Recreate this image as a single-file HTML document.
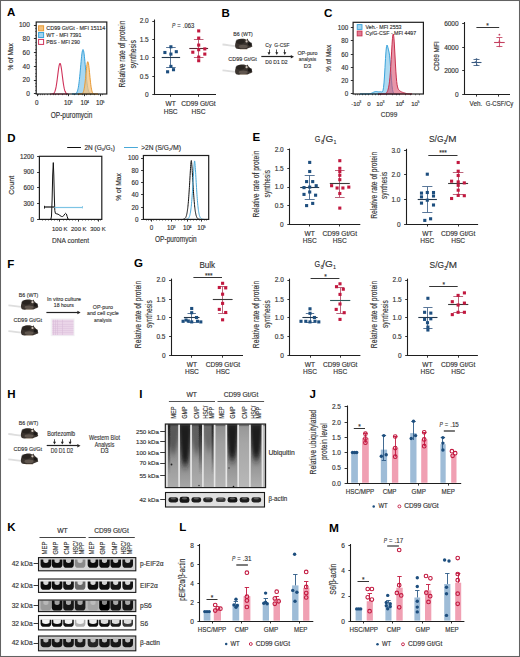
<!DOCTYPE html><html><head><meta charset="utf-8"><style>html,body{margin:0;padding:0;background:#fff;width:520px;height:657px;overflow:hidden}svg{display:block;font-family:"Liberation Sans",sans-serif}</style></head><body><svg width="520" height="657" viewBox="0 0 520 657" font-family="Liberation Sans, sans-serif"><defs><filter id="bl1" x="-20%" y="-5%" width="140%" height="110%"><feGaussianBlur stdDeviation="0.6"/></filter><filter id="bls" x="-50%" y="-40%" width="200%" height="180%"><feGaussianBlur stdDeviation="1.6 4.5"/></filter><linearGradient id="lg0" x1="0" y1="0" x2="0" y2="1"><stop offset="0" stop-color="#6a6a6a"/><stop offset="0.3" stop-color="#848484"/><stop offset="0.65" stop-color="#9c9c9c"/><stop offset="1" stop-color="#acacac"/></linearGradient><clipPath id="lc0"><rect x="167.80" y="424.00" width="10.40" height="63.60"/></clipPath><linearGradient id="lg1" x1="0" y1="0" x2="0" y2="1"><stop offset="0" stop-color="#5a5a5a"/><stop offset="0.5" stop-color="#828282"/><stop offset="1" stop-color="#a6a6a6"/></linearGradient><clipPath id="lc1"><rect x="180.00" y="424.00" width="10.30" height="63.60"/></clipPath><linearGradient id="lg2" x1="0" y1="0" x2="0" y2="1"><stop offset="0" stop-color="#6a6a6a"/><stop offset="0.3" stop-color="#848484"/><stop offset="0.6" stop-color="#9e9e9e"/><stop offset="1" stop-color="#adadad"/></linearGradient><clipPath id="lc2"><rect x="192.00" y="424.00" width="10.00" height="63.60"/></clipPath><linearGradient id="lg3" x1="0" y1="0" x2="0" y2="1"><stop offset="0" stop-color="#787878"/><stop offset="0.35" stop-color="#909090"/><stop offset="0.7" stop-color="#a4a4a4"/><stop offset="1" stop-color="#b2b2b2"/></linearGradient><clipPath id="lc3"><rect x="203.80" y="424.00" width="10.00" height="63.60"/></clipPath><linearGradient id="lg4" x1="0" y1="0" x2="0" y2="1"><stop offset="0" stop-color="#8e8e8e"/><stop offset="0.3" stop-color="#a0a0a0"/><stop offset="1" stop-color="#b4b4b4"/></linearGradient><clipPath id="lc4"><rect x="215.60" y="424.00" width="9.80" height="63.60"/></clipPath><linearGradient id="lg5" x1="0" y1="0" x2="0" y2="1"><stop offset="0" stop-color="#5a5a5a"/><stop offset="0.5" stop-color="#888888"/><stop offset="1" stop-color="#aaaaaa"/></linearGradient><clipPath id="lc5"><rect x="227.20" y="424.00" width="10.10" height="63.60"/></clipPath><linearGradient id="lg6" x1="0" y1="0" x2="0" y2="1"><stop offset="0" stop-color="#969696"/><stop offset="0.3" stop-color="#a6a6a6"/><stop offset="1" stop-color="#b8b8b8"/></linearGradient><clipPath id="lc6"><rect x="239.20" y="424.00" width="9.80" height="63.60"/></clipPath><linearGradient id="lg7" x1="0" y1="0" x2="0" y2="1"><stop offset="0" stop-color="#6a6a6a"/><stop offset="0.5" stop-color="#8a8a8a"/><stop offset="1" stop-color="#b0b0b0"/></linearGradient><clipPath id="lc7"><rect x="250.80" y="424.00" width="10.80" height="63.60"/></clipPath><linearGradient id="edg" x1="0" y1="0" x2="0" y2="1"><stop offset="0" stop-color="#1a1a1a" stop-opacity="0.85"/><stop offset="0.5" stop-color="#2a2a2a" stop-opacity="0.45"/><stop offset="0.8" stop-color="#333" stop-opacity="0"/></linearGradient><filter id="bl2" x="-30%" y="-60%" width="160%" height="220%"><feGaussianBlur stdDeviation="0.7"/></filter><filter id="bl3" x="-30%" y="-60%" width="160%" height="220%"><feGaussianBlur stdDeviation="0.55"/></filter><filter id="bl4" x="-30%" y="-60%" width="160%" height="220%"><feGaussianBlur stdDeviation="0.8"/></filter><filter id="bl5" x="-30%" y="-60%" width="160%" height="220%"><feGaussianBlur stdDeviation="0.5"/></filter></defs><rect x="0" y="0" width="520" height="657" fill="#fff"/><text x="7.00" y="16.00" font-size="11.5" fill="#000" text-anchor="start" font-weight="bold">A</text><path d="M50.00,94.00 L50.00,94.00 L50.23,94.00 L50.45,93.99 L50.67,93.99 L50.90,93.99 L51.12,93.98 L51.35,93.97 L51.58,93.96 L51.80,93.95 L52.02,93.93 L52.25,93.90 L52.48,93.86 L52.70,93.80 L52.92,93.73 L53.15,93.64 L53.38,93.52 L53.60,93.36 L53.83,93.17 L54.05,92.93 L54.27,92.62 L54.50,92.25 L54.73,91.80 L54.95,91.26 L55.17,90.62 L55.40,89.87 L55.62,89.00 L55.85,88.01 L56.08,86.89 L56.30,85.64 L56.52,84.26 L56.75,82.76 L56.98,81.16 L57.20,79.46 L57.42,77.70 L57.65,75.90 L57.88,74.10 L58.10,72.32 L58.33,70.60 L58.55,69.00 L58.77,67.53 L59.00,66.25 L59.23,65.18 L59.45,64.36 L59.67,63.80 L59.90,63.53 L60.12,63.55 L60.35,63.85 L60.58,64.44 L60.80,65.29 L61.02,66.38 L61.25,67.69 L61.48,69.17 L61.70,70.79 L61.92,72.51 L62.15,74.30 L62.38,76.10 L62.60,77.90 L62.83,79.65 L63.05,81.34 L63.27,82.93 L63.50,84.42 L63.73,85.78 L63.95,87.02 L64.17,88.13 L64.40,89.11 L64.62,89.96 L64.85,90.70 L65.08,91.33 L65.30,91.86 L65.53,92.30 L65.75,92.66 L65.97,92.96 L66.20,93.19 L66.42,93.38 L66.65,93.53 L66.88,93.65 L67.10,93.74 L67.33,93.81 L67.55,93.86 L67.78,93.90 L68.00,93.93 L68.00,94.00 Z" fill="#fff" stroke="#d0325a" stroke-width="1.1"/><path d="M72.00,94.00 L72.00,94.00 L72.28,94.00 L72.55,94.00 L72.83,93.99 L73.10,93.99 L73.38,93.99 L73.65,93.98 L73.92,93.97 L74.20,93.95 L74.47,93.92 L74.75,93.88 L75.03,93.82 L75.30,93.74 L75.58,93.63 L75.85,93.47 L76.12,93.26 L76.40,92.99 L76.67,92.62 L76.95,92.14 L77.22,91.54 L77.50,90.78 L77.78,89.84 L78.05,88.70 L78.33,87.33 L78.60,85.71 L78.88,83.84 L79.15,81.71 L79.42,79.33 L79.70,76.71 L79.97,73.89 L80.25,70.92 L80.53,67.85 L80.80,64.77 L81.08,61.74 L81.35,58.87 L81.62,56.24 L81.90,53.94 L82.17,52.05 L82.45,50.65 L82.72,49.79 L83.00,49.50 L83.28,49.79 L83.55,50.65 L83.83,52.05 L84.10,53.94 L84.38,56.24 L84.65,58.87 L84.92,61.74 L85.20,64.77 L85.47,67.85 L85.75,70.92 L86.03,73.89 L86.30,76.71 L86.58,79.33 L86.85,81.71 L87.12,83.84 L87.40,85.71 L87.67,87.33 L87.95,88.70 L88.22,89.84 L88.50,90.78 L88.78,91.54 L89.05,92.14 L89.33,92.62 L89.60,92.99 L89.88,93.26 L90.15,93.47 L90.42,93.63 L90.70,93.74 L90.97,93.82 L91.25,93.88 L91.53,93.92 L91.80,93.95 L92.08,93.97 L92.35,93.98 L92.62,93.99 L92.90,93.99 L93.17,93.99 L93.45,94.00 L93.72,94.00 L94.00,94.00 L94.00,94.00 Z" fill="#9fd3ef" stroke="#3aa3db" stroke-width="1.0" fill-opacity="0.9"/><path d="M78.00,94.00 L78.00,94.00 L78.25,94.00 L78.50,94.00 L78.75,94.00 L79.00,94.00 L79.25,94.00 L79.50,94.00 L79.75,94.00 L80.00,93.99 L80.25,93.99 L80.50,93.98 L80.75,93.97 L81.00,93.95 L81.25,93.92 L81.50,93.87 L81.75,93.80 L82.00,93.69 L82.25,93.55 L82.50,93.34 L82.75,93.06 L83.00,92.67 L83.25,92.16 L83.50,91.51 L83.75,90.67 L84.00,89.63 L84.25,88.36 L84.50,86.85 L84.75,85.09 L85.00,83.10 L85.25,80.88 L85.50,78.48 L85.75,75.95 L86.00,73.38 L86.25,70.84 L86.50,68.44 L86.75,66.27 L87.00,64.44 L87.25,63.03 L87.50,62.10 L87.75,61.71 L88.00,61.88 L88.25,62.59 L88.50,63.82 L88.75,65.50 L89.00,67.54 L89.25,69.86 L89.50,72.35 L89.75,74.92 L90.00,77.48 L90.25,79.93 L90.50,82.23 L90.75,84.32 L91.00,86.18 L91.25,87.79 L91.50,89.15 L91.75,90.28 L92.00,91.19 L92.25,91.92 L92.50,92.48 L92.75,92.92 L93.00,93.24 L93.25,93.47 L93.50,93.64 L93.75,93.76 L94.00,93.84 L94.25,93.90 L94.50,93.94 L94.75,93.96 L95.00,93.98 L95.25,93.99 L95.50,93.99 L95.75,93.99 L96.00,94.00 L96.25,94.00 L96.50,94.00 L96.75,94.00 L97.00,94.00 L97.25,94.00 L97.50,94.00 L97.75,94.00 L98.00,94.00 L98.00,94.00 Z" fill="#f4c27e" stroke="#e89a35" stroke-width="1.0" fill-opacity="0.75"/><rect x="36.20" y="22.00" width="70.60" height="72.00" fill="none" stroke="#1e1e1e" stroke-width="1.2"/><line x1="33.90" y1="25.50" x2="36.20" y2="25.50" stroke="#1e1e1e" stroke-width="0.9"/><text x="29.80" y="27.30" font-size="6.5" fill="#333333" text-anchor="end" stroke="#333333" stroke-width="0.15">100</text><line x1="33.90" y1="38.50" x2="36.20" y2="38.50" stroke="#1e1e1e" stroke-width="0.9"/><text x="29.80" y="41.05" font-size="6.5" fill="#333333" text-anchor="end" stroke="#333333" stroke-width="0.15">80</text><line x1="33.90" y1="52.50" x2="36.20" y2="52.50" stroke="#1e1e1e" stroke-width="0.9"/><text x="29.80" y="54.80" font-size="6.5" fill="#333333" text-anchor="end" stroke="#333333" stroke-width="0.15">60</text><line x1="33.90" y1="66.50" x2="36.20" y2="66.50" stroke="#1e1e1e" stroke-width="0.9"/><text x="29.80" y="68.55" font-size="6.5" fill="#333333" text-anchor="end" stroke="#333333" stroke-width="0.15">40</text><line x1="33.90" y1="80.50" x2="36.20" y2="80.50" stroke="#1e1e1e" stroke-width="0.9"/><text x="29.80" y="82.30" font-size="6.5" fill="#333333" text-anchor="end" stroke="#333333" stroke-width="0.15">20</text><line x1="33.90" y1="93.50" x2="36.20" y2="93.50" stroke="#1e1e1e" stroke-width="0.9"/><text x="29.80" y="96.05" font-size="6.5" fill="#333333" text-anchor="end" stroke="#333333" stroke-width="0.15">0</text><line x1="38.50" y1="94.00" x2="38.50" y2="95.20" stroke="#1e1e1e" stroke-width="0.6"/><line x1="40.50" y1="94.00" x2="40.50" y2="95.20" stroke="#1e1e1e" stroke-width="0.6"/><line x1="42.50" y1="94.00" x2="42.50" y2="95.20" stroke="#1e1e1e" stroke-width="0.6"/><line x1="44.50" y1="94.00" x2="44.50" y2="95.20" stroke="#1e1e1e" stroke-width="0.6"/><line x1="47.50" y1="94.00" x2="47.50" y2="95.20" stroke="#1e1e1e" stroke-width="0.6"/><line x1="50.50" y1="94.00" x2="50.50" y2="95.20" stroke="#1e1e1e" stroke-width="0.6"/><line x1="53.50" y1="94.00" x2="53.50" y2="95.20" stroke="#1e1e1e" stroke-width="0.6"/><line x1="55.50" y1="94.00" x2="55.50" y2="95.20" stroke="#1e1e1e" stroke-width="0.6"/><line x1="58.50" y1="94.00" x2="58.50" y2="95.20" stroke="#1e1e1e" stroke-width="0.6"/><line x1="62.50" y1="94.00" x2="62.50" y2="95.20" stroke="#1e1e1e" stroke-width="0.6"/><line x1="66.50" y1="94.00" x2="66.50" y2="95.20" stroke="#1e1e1e" stroke-width="0.6"/><line x1="68.50" y1="94.00" x2="68.50" y2="95.20" stroke="#1e1e1e" stroke-width="0.6"/><line x1="74.50" y1="94.00" x2="74.50" y2="95.20" stroke="#1e1e1e" stroke-width="0.6"/><line x1="78.50" y1="94.00" x2="78.50" y2="95.20" stroke="#1e1e1e" stroke-width="0.6"/><line x1="82.50" y1="94.00" x2="82.50" y2="95.20" stroke="#1e1e1e" stroke-width="0.6"/><line x1="86.50" y1="94.00" x2="86.50" y2="95.20" stroke="#1e1e1e" stroke-width="0.6"/><line x1="90.50" y1="94.00" x2="90.50" y2="95.20" stroke="#1e1e1e" stroke-width="0.6"/><line x1="94.50" y1="94.00" x2="94.50" y2="95.20" stroke="#1e1e1e" stroke-width="0.6"/><line x1="98.50" y1="94.00" x2="98.50" y2="95.20" stroke="#1e1e1e" stroke-width="0.6"/><line x1="102.50" y1="94.00" x2="102.50" y2="95.20" stroke="#1e1e1e" stroke-width="0.6"/><line x1="37.50" y1="94.00" x2="37.50" y2="96.20" stroke="#1e1e1e" stroke-width="0.9"/><line x1="68.50" y1="94.00" x2="68.50" y2="96.20" stroke="#1e1e1e" stroke-width="0.9"/><line x1="84.50" y1="94.00" x2="84.50" y2="96.20" stroke="#1e1e1e" stroke-width="0.9"/><line x1="100.50" y1="94.00" x2="100.50" y2="96.20" stroke="#1e1e1e" stroke-width="0.9"/><line x1="35.20" y1="25.50" x2="36.20" y2="25.50" stroke="#1e1e1e" stroke-width="0.6"/><line x1="35.20" y1="28.50" x2="36.20" y2="28.50" stroke="#1e1e1e" stroke-width="0.6"/><line x1="35.20" y1="31.50" x2="36.20" y2="31.50" stroke="#1e1e1e" stroke-width="0.6"/><line x1="35.20" y1="35.50" x2="36.20" y2="35.50" stroke="#1e1e1e" stroke-width="0.6"/><line x1="35.20" y1="38.50" x2="36.20" y2="38.50" stroke="#1e1e1e" stroke-width="0.6"/><line x1="35.20" y1="42.50" x2="36.20" y2="42.50" stroke="#1e1e1e" stroke-width="0.6"/><line x1="35.20" y1="45.50" x2="36.20" y2="45.50" stroke="#1e1e1e" stroke-width="0.6"/><line x1="35.20" y1="49.50" x2="36.20" y2="49.50" stroke="#1e1e1e" stroke-width="0.6"/><line x1="35.20" y1="52.50" x2="36.20" y2="52.50" stroke="#1e1e1e" stroke-width="0.6"/><line x1="35.20" y1="55.50" x2="36.20" y2="55.50" stroke="#1e1e1e" stroke-width="0.6"/><line x1="35.20" y1="59.50" x2="36.20" y2="59.50" stroke="#1e1e1e" stroke-width="0.6"/><line x1="35.20" y1="62.50" x2="36.20" y2="62.50" stroke="#1e1e1e" stroke-width="0.6"/><line x1="35.20" y1="66.50" x2="36.20" y2="66.50" stroke="#1e1e1e" stroke-width="0.6"/><line x1="35.20" y1="69.50" x2="36.20" y2="69.50" stroke="#1e1e1e" stroke-width="0.6"/><line x1="35.20" y1="73.50" x2="36.20" y2="73.50" stroke="#1e1e1e" stroke-width="0.6"/><line x1="35.20" y1="76.50" x2="36.20" y2="76.50" stroke="#1e1e1e" stroke-width="0.6"/><line x1="35.20" y1="80.50" x2="36.20" y2="80.50" stroke="#1e1e1e" stroke-width="0.6"/><line x1="35.20" y1="83.50" x2="36.20" y2="83.50" stroke="#1e1e1e" stroke-width="0.6"/><line x1="35.20" y1="86.50" x2="36.20" y2="86.50" stroke="#1e1e1e" stroke-width="0.6"/><line x1="35.20" y1="90.50" x2="36.20" y2="90.50" stroke="#1e1e1e" stroke-width="0.6"/><line x1="35.20" y1="93.50" x2="36.20" y2="93.50" stroke="#1e1e1e" stroke-width="0.6"/><text x="13.39" y="56.90" font-size="7.8" fill="#333333" text-anchor="middle" stroke="#333333" stroke-width="0.15" textLength="27.4" lengthAdjust="spacingAndGlyphs" transform="rotate(-90 13.39 56.90)">% of Max</text><text x="36.80" y="105.20" font-size="6.3" fill="#333333" text-anchor="middle" stroke="#333333" stroke-width="0.15">0</text><text x="67.60" y="105.20" font-size="6.3" fill="#333333" text-anchor="middle" stroke="#333333" stroke-width="0.15">10</text><text x="84.00" y="105.20" font-size="6.3" fill="#333333" text-anchor="middle" stroke="#333333" stroke-width="0.15">10</text><text x="99.60" y="105.20" font-size="6.3" fill="#333333" text-anchor="middle" stroke="#333333" stroke-width="0.15">10</text><text x="71.60" y="102.50" font-size="3.5" fill="#333333" text-anchor="middle" stroke="#333333" stroke-width="0.15">3</text><text x="88.00" y="102.50" font-size="3.5" fill="#333333" text-anchor="middle" stroke="#333333" stroke-width="0.15">4</text><text x="103.60" y="102.50" font-size="3.5" fill="#333333" text-anchor="middle" stroke="#333333" stroke-width="0.15">5</text><text x="71.60" y="117.60" font-size="8.2" fill="#333333" text-anchor="middle" stroke="#333333" stroke-width="0.15" textLength="41.7" lengthAdjust="spacingAndGlyphs">OP-puromycin</text><rect x="38.60" y="25.80" width="5.00" height="5.00" fill="#f4c27e" stroke="#e89a35" stroke-width="1.0"/><text x="46.30" y="30.40" font-size="5.9" fill="#333333" text-anchor="start" stroke="#333333" stroke-width="0.15" textLength="58.9" lengthAdjust="spacingAndGlyphs">CD99 Gt/Gt - MFI 15114</text><rect x="38.60" y="32.50" width="5.00" height="5.00" fill="#9fd3ef" stroke="#3aa3db" stroke-width="1.0"/><text x="46.30" y="37.10" font-size="5.9" fill="#333333" text-anchor="start" stroke="#333333" stroke-width="0.15" textLength="35.2" lengthAdjust="spacingAndGlyphs">WT - MFI 7391</text><rect x="38.60" y="39.40" width="5.00" height="5.00" fill="#fff" stroke="#d0325a" stroke-width="1.0"/><text x="46.30" y="44.00" font-size="5.9" fill="#333333" text-anchor="start" stroke="#333333" stroke-width="0.15" textLength="33.6" lengthAdjust="spacingAndGlyphs">PBS - MFI 290</text><line x1="154.50" y1="19.50" x2="154.50" y2="95.05" stroke="#1e1e1e" stroke-width="1.1"/><line x1="152.30" y1="21.50" x2="154.70" y2="21.50" stroke="#1e1e1e" stroke-width="0.9"/><text x="148.70" y="23.43" font-size="6.5" fill="#333333" text-anchor="end" stroke="#333333" stroke-width="0.15">2.0</text><line x1="152.30" y1="39.50" x2="154.70" y2="39.50" stroke="#1e1e1e" stroke-width="0.9"/><text x="148.70" y="41.73" font-size="6.5" fill="#333333" text-anchor="end" stroke="#333333" stroke-width="0.15">1.5</text><line x1="152.30" y1="57.50" x2="154.70" y2="57.50" stroke="#1e1e1e" stroke-width="0.9"/><text x="148.70" y="60.23" font-size="6.5" fill="#333333" text-anchor="end" stroke="#333333" stroke-width="0.15">1.0</text><line x1="152.30" y1="76.50" x2="154.70" y2="76.50" stroke="#1e1e1e" stroke-width="0.9"/><text x="148.70" y="78.53" font-size="6.5" fill="#333333" text-anchor="end" stroke="#333333" stroke-width="0.15">0.5</text><line x1="152.30" y1="94.50" x2="154.70" y2="94.50" stroke="#1e1e1e" stroke-width="0.9"/><text x="148.70" y="96.83" font-size="6.5" fill="#333333" text-anchor="end" stroke="#333333" stroke-width="0.15">0</text><line x1="154.15" y1="94.50" x2="216.00" y2="94.50" stroke="#1e1e1e" stroke-width="1.1"/><line x1="170.50" y1="94.50" x2="170.50" y2="96.80" stroke="#1e1e1e" stroke-width="0.9"/><line x1="198.50" y1="94.50" x2="198.50" y2="96.80" stroke="#1e1e1e" stroke-width="0.9"/><text x="124.75" y="54.10" font-size="8.8" fill="#333333" text-anchor="middle" stroke="#333333" stroke-width="0.15" textLength="67" lengthAdjust="spacingAndGlyphs" transform="rotate(-90 124.75 54.10)">Relative rate of protein</text><text x="135.55" y="54.30" font-size="8.8" fill="#333333" text-anchor="middle" stroke="#333333" stroke-width="0.15" textLength="28.5" lengthAdjust="spacingAndGlyphs" transform="rotate(-90 135.55 54.30)">synthesis</text><text x="170.60" y="106.30" font-size="6.6" fill="#333333" text-anchor="middle" stroke="#333333" stroke-width="0.15">WT</text><text x="170.60" y="113.90" font-size="6.6" fill="#333333" text-anchor="middle" stroke="#333333" stroke-width="0.15">HSC</text><text x="198.50" y="106.30" font-size="6.6" fill="#333333" text-anchor="middle" stroke="#333333" stroke-width="0.15" textLength="34.4" lengthAdjust="spacingAndGlyphs">CD99 Gt/Gt</text><text x="198.50" y="113.90" font-size="6.6" fill="#333333" text-anchor="middle" stroke="#333333" stroke-width="0.15">HSC</text><text x="172.00" y="27.80" font-size="6.4" fill="#333333" text-anchor="start" stroke="#333333" stroke-width="0.15" font-style="italic" textLength="3.3" lengthAdjust="spacingAndGlyphs">P</text><text x="177.30" y="27.80" font-size="6.4" fill="#333333" text-anchor="start" stroke="#333333" stroke-width="0.15" textLength="3.4" lengthAdjust="spacingAndGlyphs">=</text><text x="182.80" y="27.80" font-size="6.4" fill="#333333" text-anchor="start" stroke="#333333" stroke-width="0.15" textLength="11.4" lengthAdjust="spacingAndGlyphs">.063</text><line x1="170.50" y1="47.90" x2="170.50" y2="67.50" stroke="#3d6088" stroke-width="0.85"/><line x1="166.10" y1="47.50" x2="175.70" y2="47.50" stroke="#3d6088" stroke-width="0.85"/><line x1="166.10" y1="67.50" x2="175.70" y2="67.50" stroke="#3d6088" stroke-width="0.85"/><line x1="161.70" y1="57.50" x2="180.10" y2="57.50" stroke="#24384c" stroke-width="1.1"/><rect x="163.35" y="50.95" width="3.10" height="3.10" fill="#1d4e7e"/><rect x="169.35" y="45.25" width="3.10" height="3.10" fill="#1d4e7e"/><rect x="169.35" y="52.55" width="3.10" height="3.10" fill="#1d4e7e"/><rect x="174.75" y="50.15" width="3.10" height="3.10" fill="#1d4e7e"/><rect x="169.35" y="64.85" width="3.10" height="3.10" fill="#1d4e7e"/><rect x="166.05" y="70.25" width="3.10" height="3.10" fill="#1d4e7e"/><rect x="171.95" y="68.15" width="3.10" height="3.10" fill="#1d4e7e"/><line x1="198.50" y1="39.40" x2="198.50" y2="57.90" stroke="#b04a66" stroke-width="0.85"/><line x1="193.90" y1="39.50" x2="203.50" y2="39.50" stroke="#b04a66" stroke-width="0.85"/><line x1="193.90" y1="57.50" x2="203.50" y2="57.50" stroke="#b04a66" stroke-width="0.85"/><line x1="189.30" y1="48.50" x2="208.10" y2="48.50" stroke="#5a2a36" stroke-width="1.1"/><rect x="197.15" y="29.35" width="3.10" height="3.10" fill="#c2183f"/><rect x="197.15" y="36.55" width="3.10" height="3.10" fill="#c2183f"/><rect x="197.15" y="43.55" width="3.10" height="3.10" fill="#c2183f"/><rect x="191.25" y="50.65" width="3.10" height="3.10" fill="#c2183f"/><rect x="197.15" y="48.15" width="3.10" height="3.10" fill="#c2183f"/><rect x="203.25" y="47.35" width="3.10" height="3.10" fill="#c2183f"/><rect x="203.25" y="52.55" width="3.10" height="3.10" fill="#c2183f"/><rect x="197.15" y="55.55" width="3.10" height="3.10" fill="#c2183f"/><rect x="197.15" y="59.15" width="3.10" height="3.10" fill="#c2183f"/><text x="221.50" y="16.50" font-size="11.5" fill="#000" text-anchor="start" font-weight="bold">B</text><text x="243.10" y="36.00" font-size="6.0" fill="#333333" text-anchor="middle" stroke="#333333" stroke-width="0.15" textLength="19.5" lengthAdjust="spacingAndGlyphs">B6 (WT)</text><path d="M222.5,44.5 C227.7,44.8 231.7,46.1 236.2,46.1" fill="none" stroke="#dedede" stroke-width="1.8"/><path d="M235.7,48.0 C234.2,44.5 235.7,40.0 239.7,39.0 C242.7,38.2 245.2,38.8 246.7,39.7 L247.6,38.6 L248.4,40.4 C249.7,41.5 251.7,44.0 252.5,46.3 C251.2,47.3 249.7,47.7 248.7,48.1 L246.7,49.0 L239.7,49.0 C237.7,49.0 236.2,48.7 235.7,48.0 Z" fill="#3b342f" stroke="none" stroke-width="1.0"/><ellipse cx="243.2" cy="46.5" rx="4.5" ry="1.8" fill="#7a6e64" fill-opacity="0.6"/><ellipse cx="240.2" cy="41.5" rx="4.5" ry="2.4" fill="#1e1a18" fill-opacity="0.6"/><ellipse cx="249.9" cy="44.1" rx="2.2" ry="1.8" fill="#141210" fill-opacity="0.8"/><circle cx="246.60" cy="41.40" r="1.10" fill="#d2c8be" stroke="none" stroke-width="1.0"/><line x1="239.70" y1="49.50" x2="247.20" y2="49.50" stroke="#c8b8a8" stroke-width="0.6"/><text x="242.50" y="60.90" font-size="6.0" fill="#333333" text-anchor="middle" stroke="#333333" stroke-width="0.15" textLength="28.4" lengthAdjust="spacingAndGlyphs">CD99 Gt/Gt</text><path d="M222.5,70.3 C227.7,70.6 231.7,71.9 236.2,71.9" fill="none" stroke="#dedede" stroke-width="1.8"/><path d="M235.7,73.8 C234.2,70.3 235.7,65.8 239.7,64.8 C242.7,64.0 245.2,64.6 246.7,65.5 L247.6,64.4 L248.4,66.2 C249.7,67.3 251.7,69.8 252.5,72.1 C251.2,73.1 249.7,73.5 248.7,73.9 L246.7,74.8 L239.7,74.8 C237.7,74.8 236.2,74.5 235.7,73.8 Z" fill="#3b342f" stroke="none" stroke-width="1.0"/><ellipse cx="243.2" cy="72.3" rx="4.5" ry="1.8" fill="#7a6e64" fill-opacity="0.6"/><ellipse cx="240.2" cy="67.3" rx="4.5" ry="2.4" fill="#1e1a18" fill-opacity="0.6"/><ellipse cx="249.9" cy="69.9" rx="2.2" ry="1.8" fill="#141210" fill-opacity="0.8"/><circle cx="246.60" cy="67.20" r="1.10" fill="#d2c8be" stroke="none" stroke-width="1.0"/><line x1="239.70" y1="74.50" x2="247.20" y2="74.50" stroke="#c8b8a8" stroke-width="0.6"/><line x1="261.30" y1="56.50" x2="291.30" y2="56.50" stroke="#222" stroke-width="1.2"/><path d="M294.00,56.80 L290.80,55.04 L290.80,58.56 Z" fill="#222" stroke="none" stroke-width="1.0"/><line x1="269.50" y1="49.50" x2="269.50" y2="53.00" stroke="#222" stroke-width="0.8"/><path d="M269.00,55.00 L267.50,52.20 L270.50,52.20 Z" fill="#222" stroke="none" stroke-width="1.0"/><line x1="276.50" y1="49.50" x2="276.50" y2="53.00" stroke="#222" stroke-width="0.8"/><path d="M276.80,55.00 L275.30,52.20 L278.30,52.20 Z" fill="#222" stroke="none" stroke-width="1.0"/><line x1="284.50" y1="49.50" x2="284.50" y2="53.00" stroke="#222" stroke-width="0.8"/><path d="M284.80,55.00 L283.30,52.20 L286.30,52.20 Z" fill="#222" stroke="none" stroke-width="1.0"/><text x="268.40" y="47.20" font-size="6.0" fill="#333333" text-anchor="middle" stroke="#333333" stroke-width="0.15" textLength="6.2" lengthAdjust="spacingAndGlyphs">Cy</text><text x="281.85" y="47.20" font-size="6.0" fill="#333333" text-anchor="middle" stroke="#333333" stroke-width="0.15" textLength="15.3" lengthAdjust="spacingAndGlyphs">G-CSF</text><text x="276.50" y="63.50" font-size="6.0" fill="#333333" text-anchor="middle" stroke="#333333" stroke-width="0.15" textLength="22.3" lengthAdjust="spacingAndGlyphs">D0 D1 D2</text><text x="307.50" y="54.80" font-size="5.8" fill="#3a3a3a" text-anchor="middle" stroke="#3a3a3a" stroke-width="0.15" textLength="20.2" lengthAdjust="spacingAndGlyphs">OP-puro</text><text x="307.50" y="61.40" font-size="5.8" fill="#3a3a3a" text-anchor="middle" stroke="#3a3a3a" stroke-width="0.15" textLength="17.5" lengthAdjust="spacingAndGlyphs">analysis</text><text x="307.50" y="67.50" font-size="5.8" fill="#3a3a3a" text-anchor="middle" stroke="#3a3a3a" stroke-width="0.15">D3</text><text x="324.00" y="17.00" font-size="11.5" fill="#000" text-anchor="start" font-weight="bold" textLength="8.4" lengthAdjust="spacingAndGlyphs">C</text><path d="M360.00,94.00 L360.00,94.00 L360.50,94.00 L361.00,94.00 L361.50,94.00 L362.00,94.00 L362.50,94.00 L363.00,94.00 L363.50,94.00 L364.00,94.00 L364.50,94.00 L365.00,94.00 L365.50,93.99 L366.00,93.99 L366.50,93.98 L367.00,93.97 L367.50,93.95 L368.00,93.93 L368.50,93.89 L369.00,93.84 L369.50,93.76 L370.00,93.66 L370.50,93.53 L371.00,93.38 L371.50,93.19 L372.00,92.97 L372.50,92.73 L373.00,92.48 L373.50,92.23 L374.00,92.00 L374.50,91.79 L375.00,91.63 L375.50,91.53 L376.00,91.49 L376.50,91.52 L377.00,91.59 L377.50,91.70 L378.00,91.80 L378.50,91.86 L379.00,91.87 L379.50,91.82 L380.00,91.77 L380.50,91.76 L381.00,91.82 L381.50,91.95 L382.00,91.98 L382.50,91.62 L383.00,90.39 L383.50,87.69 L384.00,82.96 L384.50,76.05 L385.00,67.48 L385.50,58.59 L386.00,51.14 L386.50,46.53 L387.00,45.09 L387.50,46.00 L388.00,47.90 L388.50,49.90 L389.00,52.06 L389.50,55.18 L390.00,59.96 L390.50,66.35 L391.00,73.51 L391.50,80.27 L392.00,85.72 L392.50,89.52 L393.00,91.83 L393.50,93.06 L394.00,93.63 L394.50,93.87 L395.00,93.96 L395.50,93.99 L396.00,94.00 L396.50,94.00 L397.00,94.00 L397.50,94.00 L398.00,94.00 L398.50,94.00 L399.00,94.00 L399.50,94.00 L400.00,94.00 L400.00,94.00 Z" fill="#9fd3ef" stroke="#3aa3db" stroke-width="1.0" fill-opacity="0.85"/><path d="M378.00,94.00 L378.00,94.00 L378.43,94.00 L378.85,94.00 L379.27,94.00 L379.70,94.00 L380.12,94.00 L380.55,94.00 L380.98,94.00 L381.40,94.00 L381.82,94.00 L382.25,94.00 L382.68,94.00 L383.10,93.99 L383.52,93.98 L383.95,93.96 L384.38,93.93 L384.80,93.86 L385.23,93.75 L385.65,93.57 L386.07,93.30 L386.50,92.89 L386.93,92.31 L387.35,91.51 L387.77,90.45 L388.20,89.06 L388.62,87.26 L389.05,84.90 L389.48,81.82 L389.90,77.83 L390.32,72.76 L390.75,66.59 L391.18,59.49 L391.60,51.94 L392.02,44.71 L392.45,38.74 L392.88,34.95 L393.30,34.02 L393.73,36.17 L394.15,41.09 L394.57,48.03 L395.00,55.99 L395.43,63.98 L395.85,71.17 L396.27,77.09 L396.70,81.60 L397.12,84.80 L397.55,86.94 L397.98,88.33 L398.40,89.23 L398.82,89.84 L399.25,90.31 L399.68,90.69 L400.10,91.03 L400.52,91.33 L400.95,91.60 L401.38,91.82 L401.80,92.02 L402.23,92.19 L402.65,92.33 L403.07,92.47 L403.50,92.60 L403.93,92.73 L404.35,92.87 L404.77,93.01 L405.20,93.15 L405.62,93.29 L406.05,93.42 L406.48,93.54 L406.90,93.64 L407.32,93.73 L407.75,93.80 L408.18,93.86 L408.60,93.90 L409.02,93.93 L409.45,93.96 L409.88,93.97 L410.30,93.98 L410.73,93.99 L411.15,93.99 L411.57,94.00 L412.00,94.00 L412.00,94.00 Z" fill="#d8506e" stroke="#c8304e" stroke-width="1.0" fill-opacity="0.6"/><rect x="353.10" y="22.30" width="70.30" height="71.70" fill="none" stroke="#1e1e1e" stroke-width="1.2"/><line x1="350.80" y1="27.50" x2="353.10" y2="27.50" stroke="#1e1e1e" stroke-width="0.9"/><text x="348.30" y="30.00" font-size="6.3" fill="#333333" text-anchor="end" stroke="#333333" stroke-width="0.15">100</text><line x1="350.80" y1="40.50" x2="353.10" y2="40.50" stroke="#1e1e1e" stroke-width="0.9"/><text x="348.30" y="43.25" font-size="6.3" fill="#333333" text-anchor="end" stroke="#333333" stroke-width="0.15">80</text><line x1="350.80" y1="54.50" x2="353.10" y2="54.50" stroke="#1e1e1e" stroke-width="0.9"/><text x="348.30" y="56.50" font-size="6.3" fill="#333333" text-anchor="end" stroke="#333333" stroke-width="0.15">60</text><line x1="350.80" y1="67.50" x2="353.10" y2="67.50" stroke="#1e1e1e" stroke-width="0.9"/><text x="348.30" y="69.75" font-size="6.3" fill="#333333" text-anchor="end" stroke="#333333" stroke-width="0.15">40</text><line x1="350.80" y1="80.50" x2="353.10" y2="80.50" stroke="#1e1e1e" stroke-width="0.9"/><text x="348.30" y="83.00" font-size="6.3" fill="#333333" text-anchor="end" stroke="#333333" stroke-width="0.15">20</text><line x1="350.80" y1="93.50" x2="353.10" y2="93.50" stroke="#1e1e1e" stroke-width="0.9"/><text x="348.30" y="96.25" font-size="6.3" fill="#333333" text-anchor="end" stroke="#333333" stroke-width="0.15">0</text><line x1="355.50" y1="94.00" x2="355.50" y2="95.30" stroke="#1e1e1e" stroke-width="0.6"/><line x1="357.50" y1="94.00" x2="357.50" y2="95.30" stroke="#1e1e1e" stroke-width="0.6"/><line x1="359.50" y1="94.00" x2="359.50" y2="95.30" stroke="#1e1e1e" stroke-width="0.6"/><line x1="362.50" y1="94.00" x2="362.50" y2="95.30" stroke="#1e1e1e" stroke-width="0.6"/><line x1="365.50" y1="94.00" x2="365.50" y2="95.30" stroke="#1e1e1e" stroke-width="0.6"/><line x1="368.50" y1="94.00" x2="368.50" y2="95.30" stroke="#1e1e1e" stroke-width="0.6"/><line x1="372.50" y1="94.00" x2="372.50" y2="95.30" stroke="#1e1e1e" stroke-width="0.6"/><line x1="375.50" y1="94.00" x2="375.50" y2="95.30" stroke="#1e1e1e" stroke-width="0.6"/><line x1="378.50" y1="94.00" x2="378.50" y2="95.30" stroke="#1e1e1e" stroke-width="0.6"/><line x1="380.50" y1="94.00" x2="380.50" y2="95.30" stroke="#1e1e1e" stroke-width="0.6"/><line x1="386.50" y1="94.00" x2="386.50" y2="95.30" stroke="#1e1e1e" stroke-width="0.6"/><line x1="392.50" y1="94.00" x2="392.50" y2="95.30" stroke="#1e1e1e" stroke-width="0.6"/><line x1="396.50" y1="94.00" x2="396.50" y2="95.30" stroke="#1e1e1e" stroke-width="0.6"/><line x1="399.50" y1="94.00" x2="399.50" y2="95.30" stroke="#1e1e1e" stroke-width="0.6"/><line x1="405.50" y1="94.00" x2="405.50" y2="95.30" stroke="#1e1e1e" stroke-width="0.6"/><line x1="410.50" y1="94.00" x2="410.50" y2="95.30" stroke="#1e1e1e" stroke-width="0.6"/><line x1="415.50" y1="94.00" x2="415.50" y2="95.30" stroke="#1e1e1e" stroke-width="0.6"/><line x1="419.50" y1="94.00" x2="419.50" y2="95.30" stroke="#1e1e1e" stroke-width="0.6"/><text x="331.39" y="58.30" font-size="7.8" fill="#333333" text-anchor="middle" stroke="#333333" stroke-width="0.15" textLength="27.0" lengthAdjust="spacingAndGlyphs" transform="rotate(-90 331.39 58.30)">% of Max</text><text x="355.60" y="106.00" font-size="6.0" fill="#333333" text-anchor="middle" stroke="#333333" stroke-width="0.15">-10</text><text x="360.30" y="103.20" font-size="3.5" fill="#333333" text-anchor="middle" stroke="#333333" stroke-width="0.15">3</text><text x="368.90" y="106.00" font-size="6.0" fill="#333333" text-anchor="middle" stroke="#333333" stroke-width="0.15">0</text><text x="379.60" y="106.00" font-size="6.0" fill="#333333" text-anchor="middle" stroke="#333333" stroke-width="0.15">10</text><text x="383.50" y="103.20" font-size="3.5" fill="#333333" text-anchor="middle" stroke="#333333" stroke-width="0.15">3</text><text x="399.00" y="106.00" font-size="6.0" fill="#333333" text-anchor="middle" stroke="#333333" stroke-width="0.15">10</text><text x="402.90" y="103.20" font-size="3.5" fill="#333333" text-anchor="middle" stroke="#333333" stroke-width="0.15">4</text><text x="414.60" y="106.00" font-size="6.0" fill="#333333" text-anchor="middle" stroke="#333333" stroke-width="0.15">10</text><text x="418.50" y="103.20" font-size="3.5" fill="#333333" text-anchor="middle" stroke="#333333" stroke-width="0.15">5</text><text x="389.00" y="117.40" font-size="8.0" fill="#333333" text-anchor="middle" stroke="#333333" stroke-width="0.15" textLength="16.5" lengthAdjust="spacingAndGlyphs">CD99</text><rect x="357.20" y="24.60" width="4.80" height="4.80" fill="#9fd3ef" stroke="#3aa3db" stroke-width="0.9"/><text x="365.50" y="28.90" font-size="5.6" fill="#333333" text-anchor="start" stroke="#333333" stroke-width="0.15" textLength="36.0" lengthAdjust="spacingAndGlyphs">Veh.- MFI 2553</text><rect x="357.20" y="31.10" width="4.80" height="4.80" fill="#e07a92" stroke="#c8304e" stroke-width="0.9"/><text x="365.50" y="35.40" font-size="5.6" fill="#333333" text-anchor="start" stroke="#333333" stroke-width="0.15" textLength="50.6" lengthAdjust="spacingAndGlyphs">Cy/G-CSF - MFI 4497</text><line x1="464.50" y1="22.00" x2="464.50" y2="94.85" stroke="#1e1e1e" stroke-width="1.1"/><line x1="462.20" y1="23.50" x2="464.60" y2="23.50" stroke="#1e1e1e" stroke-width="0.9"/><text x="458.60" y="25.83" font-size="6.5" fill="#333333" text-anchor="end" stroke="#333333" stroke-width="0.15">6000</text><line x1="462.20" y1="47.50" x2="464.60" y2="47.50" stroke="#1e1e1e" stroke-width="0.9"/><text x="458.60" y="49.53" font-size="6.5" fill="#333333" text-anchor="end" stroke="#333333" stroke-width="0.15">4000</text><line x1="462.20" y1="70.50" x2="464.60" y2="70.50" stroke="#1e1e1e" stroke-width="0.9"/><text x="458.60" y="72.93" font-size="6.5" fill="#333333" text-anchor="end" stroke="#333333" stroke-width="0.15">2000</text><line x1="462.20" y1="94.50" x2="464.60" y2="94.50" stroke="#1e1e1e" stroke-width="0.9"/><text x="458.60" y="96.63" font-size="6.5" fill="#333333" text-anchor="end" stroke="#333333" stroke-width="0.15">0</text><line x1="464.05" y1="94.50" x2="510.00" y2="94.50" stroke="#1e1e1e" stroke-width="1.1"/><line x1="476.50" y1="94.30" x2="476.50" y2="96.60" stroke="#1e1e1e" stroke-width="0.9"/><line x1="498.50" y1="94.30" x2="498.50" y2="96.60" stroke="#1e1e1e" stroke-width="0.9"/><text x="439.09" y="56.00" font-size="7.8" fill="#333333" text-anchor="middle" stroke="#333333" stroke-width="0.15" textLength="29.5" lengthAdjust="spacingAndGlyphs" transform="rotate(-90 439.09 56.00)">CD99 MFI</text><text x="475.90" y="105.70" font-size="6.3" fill="#333333" text-anchor="middle" stroke="#333333" stroke-width="0.15">Veh.</text><text x="499.50" y="105.70" font-size="6.3" fill="#333333" text-anchor="middle" stroke="#333333" stroke-width="0.15" textLength="27.5" lengthAdjust="spacingAndGlyphs">G-CSF/Cy</text><line x1="476.40" y1="27.50" x2="499.20" y2="27.50" stroke="#1e1e1e" stroke-width="0.9"/><text x="487.60" y="27.80" font-size="6.5" fill="#333333" text-anchor="middle" stroke="#333333" stroke-width="0.15">*</text><line x1="476.50" y1="59.30" x2="476.50" y2="65.70" stroke="#3a5a80" stroke-width="0.85"/><line x1="473.50" y1="59.50" x2="479.50" y2="59.50" stroke="#3a5a80" stroke-width="0.85"/><line x1="473.50" y1="65.50" x2="479.50" y2="65.50" stroke="#3a5a80" stroke-width="0.85"/><line x1="471.50" y1="62.50" x2="481.50" y2="62.50" stroke="#3a5a80" stroke-width="1.1"/><circle cx="476.50" cy="59.20" r="0.90" fill="#3a5a80" stroke="none" stroke-width="1.0"/><circle cx="475.50" cy="62.20" r="0.90" fill="#3a5a80" stroke="none" stroke-width="1.0"/><circle cx="476.80" cy="65.20" r="0.90" fill="#3a5a80" stroke="none" stroke-width="1.0"/><line x1="499.50" y1="37.70" x2="499.50" y2="46.30" stroke="#c44060" stroke-width="0.85"/><line x1="496.40" y1="37.50" x2="502.40" y2="37.50" stroke="#c44060" stroke-width="0.85"/><line x1="496.40" y1="46.50" x2="502.40" y2="46.50" stroke="#c44060" stroke-width="0.85"/><line x1="494.10" y1="42.50" x2="504.70" y2="42.50" stroke="#c44060" stroke-width="1.1"/><circle cx="499.40" cy="34.70" r="0.90" fill="#c44060" stroke="none" stroke-width="1.0"/><circle cx="499.40" cy="41.20" r="0.90" fill="#c44060" stroke="none" stroke-width="1.0"/><circle cx="499.40" cy="46.30" r="0.90" fill="#c44060" stroke="none" stroke-width="1.0"/><text x="7.20" y="141.80" font-size="11.5" fill="#000" text-anchor="start" font-weight="bold">D</text><rect x="39.40" y="156.30" width="62.40" height="63.10" fill="none" stroke="#1e1e1e" stroke-width="1.2"/><line x1="37.10" y1="156.50" x2="39.40" y2="156.50" stroke="#1e1e1e" stroke-width="0.9"/><text x="34.00" y="158.60" font-size="6.3" fill="#333333" text-anchor="end" stroke="#333333" stroke-width="0.15">1200</text><line x1="37.10" y1="172.50" x2="39.40" y2="172.50" stroke="#1e1e1e" stroke-width="0.9"/><text x="34.00" y="174.35" font-size="6.3" fill="#333333" text-anchor="end" stroke="#333333" stroke-width="0.15">900</text><line x1="37.10" y1="187.50" x2="39.40" y2="187.50" stroke="#1e1e1e" stroke-width="0.9"/><text x="34.00" y="190.10" font-size="6.3" fill="#333333" text-anchor="end" stroke="#333333" stroke-width="0.15">600</text><line x1="37.10" y1="203.50" x2="39.40" y2="203.50" stroke="#1e1e1e" stroke-width="0.9"/><text x="34.00" y="205.85" font-size="6.3" fill="#333333" text-anchor="end" stroke="#333333" stroke-width="0.15">300</text><line x1="37.10" y1="219.50" x2="39.40" y2="219.50" stroke="#1e1e1e" stroke-width="0.9"/><text x="34.00" y="221.60" font-size="6.3" fill="#333333" text-anchor="end" stroke="#333333" stroke-width="0.15">0</text><line x1="42.50" y1="219.40" x2="42.50" y2="220.60" stroke="#1e1e1e" stroke-width="0.6"/><line x1="45.50" y1="219.40" x2="45.50" y2="220.60" stroke="#1e1e1e" stroke-width="0.6"/><line x1="48.50" y1="219.40" x2="48.50" y2="220.60" stroke="#1e1e1e" stroke-width="0.6"/><line x1="51.50" y1="219.40" x2="51.50" y2="220.60" stroke="#1e1e1e" stroke-width="0.6"/><line x1="54.50" y1="219.40" x2="54.50" y2="220.60" stroke="#1e1e1e" stroke-width="0.6"/><line x1="57.50" y1="219.40" x2="57.50" y2="220.60" stroke="#1e1e1e" stroke-width="0.6"/><line x1="63.50" y1="219.40" x2="63.50" y2="220.60" stroke="#1e1e1e" stroke-width="0.6"/><line x1="66.50" y1="219.40" x2="66.50" y2="220.60" stroke="#1e1e1e" stroke-width="0.6"/><line x1="69.50" y1="219.40" x2="69.50" y2="220.60" stroke="#1e1e1e" stroke-width="0.6"/><line x1="72.50" y1="219.40" x2="72.50" y2="220.60" stroke="#1e1e1e" stroke-width="0.6"/><line x1="75.50" y1="219.40" x2="75.50" y2="220.60" stroke="#1e1e1e" stroke-width="0.6"/><line x1="82.50" y1="219.40" x2="82.50" y2="220.60" stroke="#1e1e1e" stroke-width="0.6"/><line x1="85.50" y1="219.40" x2="85.50" y2="220.60" stroke="#1e1e1e" stroke-width="0.6"/><line x1="88.50" y1="219.40" x2="88.50" y2="220.60" stroke="#1e1e1e" stroke-width="0.6"/><line x1="91.50" y1="219.40" x2="91.50" y2="220.60" stroke="#1e1e1e" stroke-width="0.6"/><line x1="94.50" y1="219.40" x2="94.50" y2="220.60" stroke="#1e1e1e" stroke-width="0.6"/><line x1="97.50" y1="219.40" x2="97.50" y2="220.60" stroke="#1e1e1e" stroke-width="0.6"/><line x1="100.50" y1="219.40" x2="100.50" y2="220.60" stroke="#1e1e1e" stroke-width="0.6"/><line x1="59.50" y1="219.40" x2="59.50" y2="221.60" stroke="#1e1e1e" stroke-width="0.9"/><line x1="78.50" y1="219.40" x2="78.50" y2="221.60" stroke="#1e1e1e" stroke-width="0.9"/><line x1="98.50" y1="219.40" x2="98.50" y2="221.60" stroke="#1e1e1e" stroke-width="0.9"/><path d="M50.00,219.40 L50.90,219.30 L51.50,216.00 L52.10,200.00 L52.70,175.00 L53.30,162.60 L53.80,175.00 L54.30,196.00 L54.80,210.50 L55.40,213.40 L56.20,213.70 L58.10,214.20 L59.80,215.40 L61.30,216.40 L62.60,216.50 L63.80,215.60 L64.80,214.00 L65.60,213.30 L66.40,214.00 L67.20,216.50 L68.00,219.20 L69.00,219.40" fill="none" stroke="#111" stroke-width="1.0" stroke-linejoin="round"/><line x1="44.80" y1="207.00" x2="54.40" y2="207.00" stroke="#222" stroke-width="1.3"/><line x1="54.40" y1="207.50" x2="82.60" y2="207.50" stroke="#7cc4e4" stroke-width="1.2"/><line x1="82.50" y1="206.00" x2="82.50" y2="208.40" stroke="#7cc4e4" stroke-width="0.8"/><line x1="44.50" y1="205.80" x2="44.50" y2="208.60" stroke="#222" stroke-width="1.0"/><text x="13.59" y="185.30" font-size="7.8" fill="#333333" text-anchor="middle" stroke="#333333" stroke-width="0.15" textLength="19" lengthAdjust="spacingAndGlyphs" transform="rotate(-90 13.59 185.30)">Count</text><text x="59.80" y="231.00" font-size="6.0" fill="#333333" text-anchor="middle" stroke="#333333" stroke-width="0.15" textLength="15.5" lengthAdjust="spacingAndGlyphs">100 K</text><text x="78.80" y="231.00" font-size="6.0" fill="#333333" text-anchor="middle" stroke="#333333" stroke-width="0.15" textLength="15.5" lengthAdjust="spacingAndGlyphs">200 K</text><text x="98.00" y="231.00" font-size="6.0" fill="#333333" text-anchor="middle" stroke="#333333" stroke-width="0.15" textLength="15.5" lengthAdjust="spacingAndGlyphs">300 K</text><text x="70.60" y="243.00" font-size="8.0" fill="#333333" text-anchor="middle" stroke="#333333" stroke-width="0.15" textLength="37" lengthAdjust="spacingAndGlyphs">DNA content</text><line x1="67.20" y1="147.50" x2="81.00" y2="147.50" stroke="#111" stroke-width="1.0"/><text x="84.50" y="149.50" font-size="6.4" fill="#333333" text-anchor="start" stroke="#333333" stroke-width="0.15" textLength="17.3" lengthAdjust="spacingAndGlyphs">2N (G</text><text x="102.00" y="151.00" font-size="3.6" fill="#333333" text-anchor="start" stroke="#333333" stroke-width="0.15">0</text><text x="104.00" y="149.50" font-size="6.4" fill="#333333" text-anchor="start" stroke="#333333" stroke-width="0.15" textLength="6.6" lengthAdjust="spacingAndGlyphs">/G</text><text x="110.80" y="151.00" font-size="3.6" fill="#333333" text-anchor="start" stroke="#333333" stroke-width="0.15">1</text><text x="112.80" y="149.50" font-size="6.4" fill="#333333" text-anchor="start" stroke="#333333" stroke-width="0.15">)</text><line x1="124.00" y1="147.50" x2="137.90" y2="147.50" stroke="#49a9d8" stroke-width="1.0"/><text x="141.30" y="149.50" font-size="6.4" fill="#333333" text-anchor="start" stroke="#333333" stroke-width="0.15" textLength="27.5" lengthAdjust="spacingAndGlyphs">&gt;2N (S/G</text><text x="169.00" y="151.00" font-size="3.6" fill="#333333" text-anchor="start" stroke="#333333" stroke-width="0.15">2</text><text x="171.00" y="149.50" font-size="6.4" fill="#333333" text-anchor="start" stroke="#333333" stroke-width="0.15" textLength="10.0" lengthAdjust="spacingAndGlyphs">/M)</text><path d="M183.00,219.30 L183.14,219.28 L183.28,219.26 L183.43,219.24 L183.57,219.21 L183.71,219.17 L183.85,219.13 L183.99,219.08 L184.13,219.03 L184.28,218.96 L184.42,218.89 L184.56,218.80 L184.70,218.70 L184.84,218.59 L184.98,218.46 L185.12,218.31 L185.27,218.14 L185.41,217.94 L185.55,217.72 L185.69,217.47 L185.83,217.19 L185.97,216.87 L186.12,216.51 L186.26,216.10 L186.40,215.65 L186.54,215.15 L186.68,214.59 L186.82,213.96 L186.97,213.27 L187.11,212.51 L187.25,211.67 L187.39,210.75 L187.53,209.74 L187.68,208.64 L187.82,207.45 L187.96,206.16 L188.10,204.76 L188.24,203.27 L188.38,201.66 L188.53,199.95 L188.67,198.14 L188.81,196.22 L188.95,194.20 L189.09,192.08 L189.23,189.88 L189.38,187.60 L189.52,185.26 L189.66,182.86 L189.80,180.43 L189.94,177.98 L190.08,175.55 L190.22,173.15 L190.37,170.81 L190.51,168.58 L190.65,166.48 L190.79,164.58 L190.93,162.91 L191.07,161.56 L191.22,160.64 L191.36,160.54 L191.50,161.37 L191.64,162.65 L191.78,164.26 L191.93,166.13 L192.07,168.20 L192.21,170.41 L192.35,172.73 L192.49,175.12 L192.63,177.55 L192.78,180.00 L192.92,182.43 L193.06,184.84 L193.20,187.19 L193.34,189.49 L193.48,191.70 L193.62,193.83 L193.77,195.87 L193.91,197.81 L194.05,199.64 L194.19,201.37 L194.33,202.99 L194.47,204.51 L194.62,205.92 L194.76,207.23 L194.90,208.44 L195.04,209.55 L195.18,210.58 L195.32,211.51 L195.47,212.37 L195.61,213.14 L195.75,213.84 L195.89,214.48 L196.03,215.05 L196.18,215.57 L196.32,216.03 L196.46,216.44 L196.60,216.81 L196.74,217.14 L196.88,217.42 L197.03,217.68 L197.17,217.91 L197.31,218.11 L197.45,218.28 L197.59,218.43 L197.73,218.57 L197.88,218.68 L198.02,218.79 L198.16,218.87 L198.30,218.95 L198.44,219.02 L198.58,219.07 L198.72,219.12 L198.87,219.16 L199.01,219.20 L199.15,219.23 L199.29,219.26 L199.43,219.28 L199.57,219.30 L199.72,219.32 L199.86,219.33 L200.00,219.34" fill="none" stroke="#111" stroke-width="1.0"/><path d="M186.00,219.33 L186.15,219.32 L186.30,219.30 L186.45,219.28 L186.60,219.26 L186.75,219.23 L186.90,219.20 L187.05,219.16 L187.20,219.12 L187.35,219.06 L187.50,219.00 L187.65,218.93 L187.80,218.84 L187.95,218.74 L188.10,218.63 L188.25,218.50 L188.40,218.34 L188.55,218.17 L188.70,217.97 L188.85,217.73 L189.00,217.47 L189.15,217.17 L189.30,216.83 L189.45,216.44 L189.60,216.00 L189.75,215.51 L189.90,214.95 L190.05,214.33 L190.20,213.64 L190.35,212.88 L190.50,212.02 L190.65,211.08 L190.80,210.05 L190.95,208.91 L191.10,207.67 L191.25,206.33 L191.40,204.86 L191.55,203.29 L191.70,201.59 L191.85,199.77 L192.00,197.84 L192.15,195.80 L192.30,193.64 L192.45,191.38 L192.60,189.03 L192.75,186.59 L192.90,184.10 L193.05,181.55 L193.20,178.98 L193.35,176.41 L193.50,173.88 L193.65,171.41 L193.80,169.05 L193.95,166.84 L194.10,164.84 L194.25,163.12 L194.40,161.76 L194.55,160.91 L194.70,161.12 L194.85,162.17 L195.00,163.66 L195.15,165.48 L195.30,167.56 L195.45,169.82 L195.60,172.22 L195.75,174.72 L195.90,177.27 L196.05,179.84 L196.20,182.40 L196.35,184.93 L196.50,187.41 L196.65,189.82 L196.80,192.14 L196.95,194.37 L197.10,196.49 L197.25,198.50 L197.40,200.39 L197.55,202.17 L197.70,203.82 L197.85,205.36 L198.00,206.79 L198.15,208.10 L198.30,209.30 L198.45,210.40 L198.60,211.41 L198.75,212.32 L198.90,213.14 L199.05,213.88 L199.20,214.55 L199.35,215.15 L199.50,215.68 L199.65,216.15 L199.80,216.57 L199.95,216.94 L200.10,217.27 L200.25,217.56 L200.40,217.82 L200.55,218.04 L200.70,218.23 L200.85,218.40 L201.00,218.54 L201.15,218.67 L201.30,218.78 L201.45,218.87 L201.60,218.95 L201.75,219.02 L201.90,219.08 L202.05,219.13 L202.20,219.18 L202.35,219.21 L202.50,219.24 L202.65,219.27 L202.80,219.29 L202.95,219.31 L203.10,219.32 L203.25,219.34 L203.40,219.35 L203.55,219.36 L203.70,219.36 L203.85,219.37 L204.00,219.38" fill="none" stroke="#49a9d8" stroke-width="1.0"/><rect x="143.40" y="155.50" width="65.30" height="63.90" fill="none" stroke="#1e1e1e" stroke-width="1.2"/><line x1="141.10" y1="158.50" x2="143.40" y2="158.50" stroke="#1e1e1e" stroke-width="0.9"/><text x="138.60" y="160.30" font-size="6.3" fill="#333333" text-anchor="end" stroke="#333333" stroke-width="0.15">100</text><line x1="141.10" y1="170.50" x2="143.40" y2="170.50" stroke="#1e1e1e" stroke-width="0.9"/><text x="138.60" y="172.60" font-size="6.3" fill="#333333" text-anchor="end" stroke="#333333" stroke-width="0.15">80</text><line x1="141.10" y1="182.50" x2="143.40" y2="182.50" stroke="#1e1e1e" stroke-width="0.9"/><text x="138.60" y="184.90" font-size="6.3" fill="#333333" text-anchor="end" stroke="#333333" stroke-width="0.15">60</text><line x1="141.10" y1="194.50" x2="143.40" y2="194.50" stroke="#1e1e1e" stroke-width="0.9"/><text x="138.60" y="197.20" font-size="6.3" fill="#333333" text-anchor="end" stroke="#333333" stroke-width="0.15">40</text><line x1="141.10" y1="207.50" x2="143.40" y2="207.50" stroke="#1e1e1e" stroke-width="0.9"/><text x="138.60" y="209.50" font-size="6.3" fill="#333333" text-anchor="end" stroke="#333333" stroke-width="0.15">20</text><line x1="141.10" y1="219.50" x2="143.40" y2="219.50" stroke="#1e1e1e" stroke-width="0.9"/><text x="138.60" y="221.80" font-size="6.3" fill="#333333" text-anchor="end" stroke="#333333" stroke-width="0.15">0</text><line x1="146.50" y1="219.40" x2="146.50" y2="220.60" stroke="#1e1e1e" stroke-width="0.6"/><line x1="148.50" y1="219.40" x2="148.50" y2="220.60" stroke="#1e1e1e" stroke-width="0.6"/><line x1="150.50" y1="219.40" x2="150.50" y2="220.60" stroke="#1e1e1e" stroke-width="0.6"/><line x1="153.50" y1="219.40" x2="153.50" y2="220.60" stroke="#1e1e1e" stroke-width="0.6"/><line x1="156.50" y1="219.40" x2="156.50" y2="220.60" stroke="#1e1e1e" stroke-width="0.6"/><line x1="159.50" y1="219.40" x2="159.50" y2="220.60" stroke="#1e1e1e" stroke-width="0.6"/><line x1="162.50" y1="219.40" x2="162.50" y2="220.60" stroke="#1e1e1e" stroke-width="0.6"/><line x1="165.50" y1="219.40" x2="165.50" y2="220.60" stroke="#1e1e1e" stroke-width="0.6"/><line x1="168.50" y1="219.40" x2="168.50" y2="220.60" stroke="#1e1e1e" stroke-width="0.6"/><line x1="175.50" y1="219.40" x2="175.50" y2="220.60" stroke="#1e1e1e" stroke-width="0.6"/><line x1="178.50" y1="219.40" x2="178.50" y2="220.60" stroke="#1e1e1e" stroke-width="0.6"/><line x1="181.50" y1="219.40" x2="181.50" y2="220.60" stroke="#1e1e1e" stroke-width="0.6"/><line x1="184.50" y1="219.40" x2="184.50" y2="220.60" stroke="#1e1e1e" stroke-width="0.6"/><line x1="190.50" y1="219.40" x2="190.50" y2="220.60" stroke="#1e1e1e" stroke-width="0.6"/><line x1="193.50" y1="219.40" x2="193.50" y2="220.60" stroke="#1e1e1e" stroke-width="0.6"/><line x1="196.50" y1="219.40" x2="196.50" y2="220.60" stroke="#1e1e1e" stroke-width="0.6"/><line x1="199.50" y1="219.40" x2="199.50" y2="220.60" stroke="#1e1e1e" stroke-width="0.6"/><line x1="204.50" y1="219.40" x2="204.50" y2="220.60" stroke="#1e1e1e" stroke-width="0.6"/><line x1="206.50" y1="219.40" x2="206.50" y2="220.60" stroke="#1e1e1e" stroke-width="0.6"/><line x1="151.50" y1="219.40" x2="151.50" y2="221.60" stroke="#1e1e1e" stroke-width="0.9"/><line x1="171.50" y1="219.40" x2="171.50" y2="221.60" stroke="#1e1e1e" stroke-width="0.9"/><line x1="187.50" y1="219.40" x2="187.50" y2="221.60" stroke="#1e1e1e" stroke-width="0.9"/><line x1="201.50" y1="219.40" x2="201.50" y2="221.60" stroke="#1e1e1e" stroke-width="0.9"/><text x="121.39" y="187.00" font-size="7.8" fill="#333333" text-anchor="middle" stroke="#333333" stroke-width="0.15" textLength="27.4" lengthAdjust="spacingAndGlyphs" transform="rotate(-90 121.39 187.00)">% of Max</text><text x="151.50" y="230.30" font-size="6.3" fill="#333333" text-anchor="middle" stroke="#333333" stroke-width="0.15">0</text><text x="170.40" y="230.30" font-size="6.3" fill="#333333" text-anchor="middle" stroke="#333333" stroke-width="0.15">10</text><text x="174.40" y="227.60" font-size="3.5" fill="#333333" text-anchor="middle" stroke="#333333" stroke-width="0.15">3</text><text x="186.40" y="230.30" font-size="6.3" fill="#333333" text-anchor="middle" stroke="#333333" stroke-width="0.15">10</text><text x="190.40" y="227.60" font-size="3.5" fill="#333333" text-anchor="middle" stroke="#333333" stroke-width="0.15">4</text><text x="200.80" y="230.30" font-size="6.3" fill="#333333" text-anchor="middle" stroke="#333333" stroke-width="0.15">10</text><text x="204.80" y="227.60" font-size="3.5" fill="#333333" text-anchor="middle" stroke="#333333" stroke-width="0.15">5</text><text x="175.90" y="242.40" font-size="8.2" fill="#333333" text-anchor="middle" stroke="#333333" stroke-width="0.15" textLength="41.7" lengthAdjust="spacingAndGlyphs">OP-puromycin</text><text x="252.60" y="141.40" font-size="11.5" fill="#000" text-anchor="start" font-weight="bold">E</text><line x1="289.50" y1="148.50" x2="289.50" y2="224.75" stroke="#1e1e1e" stroke-width="1.1"/><line x1="287.30" y1="149.50" x2="289.70" y2="149.50" stroke="#1e1e1e" stroke-width="0.9"/><text x="283.70" y="152.23" font-size="6.5" fill="#333333" text-anchor="end" stroke="#333333" stroke-width="0.15">2.0</text><line x1="287.30" y1="168.50" x2="289.70" y2="168.50" stroke="#1e1e1e" stroke-width="0.9"/><text x="283.70" y="170.93" font-size="6.5" fill="#333333" text-anchor="end" stroke="#333333" stroke-width="0.15">1.5</text><line x1="287.30" y1="187.50" x2="289.70" y2="187.50" stroke="#1e1e1e" stroke-width="0.9"/><text x="283.70" y="189.43" font-size="6.5" fill="#333333" text-anchor="end" stroke="#333333" stroke-width="0.15">1.0</text><line x1="287.30" y1="205.50" x2="289.70" y2="205.50" stroke="#1e1e1e" stroke-width="0.9"/><text x="283.70" y="207.93" font-size="6.5" fill="#333333" text-anchor="end" stroke="#333333" stroke-width="0.15">0.5</text><line x1="287.30" y1="224.50" x2="289.70" y2="224.50" stroke="#1e1e1e" stroke-width="0.9"/><text x="283.70" y="226.53" font-size="6.5" fill="#333333" text-anchor="end" stroke="#333333" stroke-width="0.15">0</text><line x1="289.15" y1="224.50" x2="360.30" y2="224.50" stroke="#1e1e1e" stroke-width="1.1"/><line x1="309.50" y1="224.20" x2="309.50" y2="226.50" stroke="#1e1e1e" stroke-width="0.9"/><line x1="339.50" y1="224.20" x2="339.50" y2="226.50" stroke="#1e1e1e" stroke-width="0.9"/><text x="258.85" y="184.00" font-size="8.8" fill="#333333" text-anchor="middle" stroke="#333333" stroke-width="0.15" textLength="67" lengthAdjust="spacingAndGlyphs" transform="rotate(-90 258.85 184.00)">Relative rate of protein</text><text x="269.55" y="183.70" font-size="8.8" fill="#333333" text-anchor="middle" stroke="#333333" stroke-width="0.15" textLength="27.4" lengthAdjust="spacingAndGlyphs" transform="rotate(-90 269.55 183.70)">synthesis</text><text x="309.70" y="235.70" font-size="6.6" fill="#333333" text-anchor="middle" stroke="#333333" stroke-width="0.15">WT</text><text x="309.70" y="243.20" font-size="6.6" fill="#333333" text-anchor="middle" stroke="#333333" stroke-width="0.15">HSC</text><text x="339.80" y="235.70" font-size="6.6" fill="#333333" text-anchor="middle" stroke="#333333" stroke-width="0.15" textLength="34.4" lengthAdjust="spacingAndGlyphs">CD99 Gt/Gt</text><text x="339.80" y="243.20" font-size="6.6" fill="#333333" text-anchor="middle" stroke="#333333" stroke-width="0.15">HSC</text><text x="314.80" y="142.20" font-size="8.8" fill="#333333" text-anchor="start" stroke="#333333" stroke-width="0.15" textLength="5.6" lengthAdjust="spacingAndGlyphs">G</text><text x="321.20" y="144.20" font-size="4.6" fill="#333333" text-anchor="start" stroke="#333333" stroke-width="0.15">0</text><text x="322.60" y="142.20" font-size="8.8" fill="#333333" text-anchor="start" stroke="#333333" stroke-width="0.15" textLength="10.6" lengthAdjust="spacingAndGlyphs">/G</text><text x="333.70" y="144.20" font-size="4.6" fill="#333333" text-anchor="start" stroke="#333333" stroke-width="0.15">1</text><line x1="309.50" y1="175.30" x2="309.50" y2="199.20" stroke="#3d6088" stroke-width="0.85"/><line x1="304.70" y1="175.50" x2="314.70" y2="175.50" stroke="#3d6088" stroke-width="0.85"/><line x1="304.70" y1="199.50" x2="314.70" y2="199.50" stroke="#3d6088" stroke-width="0.85"/><line x1="300.20" y1="187.50" x2="319.20" y2="187.50" stroke="#24384c" stroke-width="1.1"/><rect x="308.15" y="160.85" width="3.10" height="3.10" fill="#1d4e7e"/><rect x="308.15" y="169.95" width="3.10" height="3.10" fill="#1d4e7e"/><rect x="305.05" y="180.05" width="3.10" height="3.10" fill="#1d4e7e"/><rect x="311.15" y="180.05" width="3.10" height="3.10" fill="#1d4e7e"/><rect x="302.45" y="186.05" width="3.10" height="3.10" fill="#1d4e7e"/><rect x="308.15" y="185.55" width="3.10" height="3.10" fill="#1d4e7e"/><rect x="314.65" y="184.15" width="3.10" height="3.10" fill="#1d4e7e"/><rect x="308.15" y="190.45" width="3.10" height="3.10" fill="#1d4e7e"/><rect x="302.45" y="192.85" width="3.10" height="3.10" fill="#1d4e7e"/><rect x="314.05" y="193.65" width="3.10" height="3.10" fill="#1d4e7e"/><rect x="305.05" y="204.05" width="3.10" height="3.10" fill="#1d4e7e"/><rect x="311.15" y="201.85" width="3.10" height="3.10" fill="#1d4e7e"/><line x1="339.50" y1="170.50" x2="339.50" y2="197.20" stroke="#b04a66" stroke-width="0.85"/><line x1="335.00" y1="170.50" x2="344.60" y2="170.50" stroke="#b04a66" stroke-width="0.85"/><line x1="335.00" y1="197.50" x2="344.60" y2="197.50" stroke="#b04a66" stroke-width="0.85"/><line x1="329.80" y1="183.50" x2="349.80" y2="183.50" stroke="#3a3a3a" stroke-width="1.1"/><rect x="338.25" y="159.15" width="3.10" height="3.10" fill="#c2183f"/><rect x="338.25" y="166.75" width="3.10" height="3.10" fill="#c2183f"/><rect x="338.25" y="170.05" width="3.10" height="3.10" fill="#c2183f"/><rect x="338.25" y="173.75" width="3.10" height="3.10" fill="#c2183f"/><rect x="338.25" y="178.15" width="3.10" height="3.10" fill="#c2183f"/><rect x="330.05" y="184.15" width="3.10" height="3.10" fill="#c2183f"/><rect x="335.55" y="186.45" width="3.10" height="3.10" fill="#c2183f"/><rect x="341.35" y="186.45" width="3.10" height="3.10" fill="#c2183f"/><rect x="347.25" y="185.55" width="3.10" height="3.10" fill="#c2183f"/><rect x="338.25" y="191.95" width="3.10" height="3.10" fill="#c2183f"/><rect x="338.25" y="206.55" width="3.10" height="3.10" fill="#c2183f"/><line x1="406.50" y1="148.80" x2="406.50" y2="224.75" stroke="#1e1e1e" stroke-width="1.1"/><line x1="404.10" y1="150.50" x2="406.50" y2="150.50" stroke="#1e1e1e" stroke-width="0.9"/><text x="400.50" y="152.53" font-size="6.5" fill="#333333" text-anchor="end" stroke="#333333" stroke-width="0.15">3.0</text><line x1="404.10" y1="174.50" x2="406.50" y2="174.50" stroke="#1e1e1e" stroke-width="0.9"/><text x="400.50" y="177.13" font-size="6.5" fill="#333333" text-anchor="end" stroke="#333333" stroke-width="0.15">2.0</text><line x1="404.10" y1="199.50" x2="406.50" y2="199.50" stroke="#1e1e1e" stroke-width="0.9"/><text x="400.50" y="201.93" font-size="6.5" fill="#333333" text-anchor="end" stroke="#333333" stroke-width="0.15">1.0</text><line x1="404.10" y1="224.50" x2="406.50" y2="224.50" stroke="#1e1e1e" stroke-width="0.9"/><text x="400.50" y="226.53" font-size="6.5" fill="#333333" text-anchor="end" stroke="#333333" stroke-width="0.15">0</text><line x1="405.95" y1="224.50" x2="478.10" y2="224.50" stroke="#1e1e1e" stroke-width="1.1"/><line x1="427.50" y1="224.20" x2="427.50" y2="226.50" stroke="#1e1e1e" stroke-width="0.9"/><line x1="458.50" y1="224.20" x2="458.50" y2="226.50" stroke="#1e1e1e" stroke-width="0.9"/><text x="376.85" y="185.30" font-size="8.8" fill="#333333" text-anchor="middle" stroke="#333333" stroke-width="0.15" textLength="67" lengthAdjust="spacingAndGlyphs" transform="rotate(-90 376.85 185.30)">Relative rate of protein</text><text x="387.45" y="185.30" font-size="8.8" fill="#333333" text-anchor="middle" stroke="#333333" stroke-width="0.15" textLength="27.4" lengthAdjust="spacingAndGlyphs" transform="rotate(-90 387.45 185.30)">synthesis</text><text x="427.30" y="235.70" font-size="6.6" fill="#333333" text-anchor="middle" stroke="#333333" stroke-width="0.15">WT</text><text x="427.30" y="243.20" font-size="6.6" fill="#333333" text-anchor="middle" stroke="#333333" stroke-width="0.15">HSC</text><text x="458.10" y="235.70" font-size="6.6" fill="#333333" text-anchor="middle" stroke="#333333" stroke-width="0.15" textLength="34.4" lengthAdjust="spacingAndGlyphs">CD99 Gt/Gt</text><text x="458.10" y="243.20" font-size="6.6" fill="#333333" text-anchor="middle" stroke="#333333" stroke-width="0.15">HSC</text><text x="429.00" y="141.90" font-size="8.8" fill="#333333" text-anchor="start" stroke="#333333" stroke-width="0.15" textLength="14.5" lengthAdjust="spacingAndGlyphs">S/G</text><text x="443.70" y="143.90" font-size="4.6" fill="#333333" text-anchor="start" stroke="#333333" stroke-width="0.15">2</text><text x="445.40" y="141.90" font-size="8.8" fill="#333333" text-anchor="start" stroke="#333333" stroke-width="0.15" textLength="11.0" lengthAdjust="spacingAndGlyphs">/M</text><line x1="428.30" y1="155.50" x2="457.50" y2="155.50" stroke="#1e1e1e" stroke-width="0.9"/><text x="443.10" y="155.40" font-size="6.5" fill="#333333" text-anchor="middle" stroke="#333333" stroke-width="0.15">***</text><line x1="427.50" y1="186.70" x2="427.50" y2="212.30" stroke="#3d6088" stroke-width="0.85"/><line x1="422.20" y1="186.50" x2="432.40" y2="186.50" stroke="#3d6088" stroke-width="0.85"/><line x1="422.20" y1="212.50" x2="432.40" y2="212.50" stroke="#3d6088" stroke-width="0.85"/><line x1="417.70" y1="199.50" x2="436.90" y2="199.50" stroke="#24384c" stroke-width="1.1"/><rect x="425.75" y="172.65" width="3.10" height="3.10" fill="#1d4e7e"/><rect x="419.95" y="191.55" width="3.10" height="3.10" fill="#1d4e7e"/><rect x="425.75" y="190.95" width="3.10" height="3.10" fill="#1d4e7e"/><rect x="431.95" y="190.95" width="3.10" height="3.10" fill="#1d4e7e"/><rect x="419.95" y="195.35" width="3.10" height="3.10" fill="#1d4e7e"/><rect x="431.95" y="194.45" width="3.10" height="3.10" fill="#1d4e7e"/><rect x="425.75" y="198.65" width="3.10" height="3.10" fill="#1d4e7e"/><rect x="419.95" y="201.55" width="3.10" height="3.10" fill="#1d4e7e"/><rect x="431.95" y="203.45" width="3.10" height="3.10" fill="#1d4e7e"/><rect x="423.25" y="218.85" width="3.10" height="3.10" fill="#1d4e7e"/><rect x="429.05" y="217.25" width="3.10" height="3.10" fill="#1d4e7e"/><line x1="458.50" y1="172.30" x2="458.50" y2="194.40" stroke="#b04a66" stroke-width="0.85"/><line x1="452.80" y1="172.50" x2="463.40" y2="172.50" stroke="#b04a66" stroke-width="0.85"/><line x1="452.80" y1="194.50" x2="463.40" y2="194.50" stroke="#b04a66" stroke-width="0.85"/><line x1="448.10" y1="183.50" x2="468.10" y2="183.50" stroke="#3a3a3a" stroke-width="1.1"/><rect x="456.65" y="160.95" width="3.10" height="3.10" fill="#c2183f"/><rect x="456.65" y="169.65" width="3.10" height="3.10" fill="#c2183f"/><rect x="456.65" y="173.95" width="3.10" height="3.10" fill="#c2183f"/><rect x="450.05" y="179.65" width="3.10" height="3.10" fill="#c2183f"/><rect x="456.65" y="180.35" width="3.10" height="3.10" fill="#c2183f"/><rect x="462.75" y="181.35" width="3.10" height="3.10" fill="#c2183f"/><rect x="456.65" y="183.75" width="3.10" height="3.10" fill="#c2183f"/><rect x="456.65" y="188.65" width="3.10" height="3.10" fill="#c2183f"/><rect x="456.65" y="193.85" width="3.10" height="3.10" fill="#c2183f"/><rect x="462.75" y="194.15" width="3.10" height="3.10" fill="#c2183f"/><rect x="450.05" y="196.95" width="3.10" height="3.10" fill="#c2183f"/><text x="7.30" y="268.00" font-size="11.5" fill="#000" text-anchor="start" font-weight="bold">F</text><text x="28.60" y="296.50" font-size="6.0" fill="#333333" text-anchor="middle" stroke="#333333" stroke-width="0.15" textLength="19.5" lengthAdjust="spacingAndGlyphs">B6 (WT)</text><path d="M8.4,305.3 C13.6,305.6 17.6,306.9 22.1,306.9" fill="none" stroke="#dedede" stroke-width="1.8"/><path d="M21.6,308.8 C20.1,305.3 21.6,300.8 25.6,299.8 C28.6,299.0 31.1,299.6 32.6,300.5 L33.5,299.4 L34.3,301.2 C35.6,302.3 37.6,304.8 38.4,307.1 C37.1,308.1 35.6,308.5 34.6,308.9 L32.6,309.8 L25.6,309.8 C23.6,309.8 22.1,309.5 21.6,308.8 Z" fill="#3b342f" stroke="none" stroke-width="1.0"/><ellipse cx="29.1" cy="307.3" rx="4.5" ry="1.8" fill="#7a6e64" fill-opacity="0.6"/><ellipse cx="26.1" cy="302.3" rx="4.5" ry="2.4" fill="#1e1a18" fill-opacity="0.6"/><ellipse cx="35.8" cy="304.9" rx="2.2" ry="1.8" fill="#141210" fill-opacity="0.8"/><circle cx="32.50" cy="302.20" r="1.10" fill="#d2c8be" stroke="none" stroke-width="1.0"/><line x1="25.60" y1="309.50" x2="33.10" y2="309.50" stroke="#c8b8a8" stroke-width="0.6"/><text x="27.70" y="322.40" font-size="6.0" fill="#333333" text-anchor="middle" stroke="#333333" stroke-width="0.15" textLength="28.4" lengthAdjust="spacingAndGlyphs">CD99 Gt/Gt</text><path d="M8.4,331.1 C13.6,331.4 17.6,332.7 22.1,332.7" fill="none" stroke="#dedede" stroke-width="1.8"/><path d="M21.6,334.6 C20.1,331.1 21.6,326.6 25.6,325.6 C28.6,324.8 31.1,325.4 32.6,326.3 L33.5,325.2 L34.3,327.0 C35.6,328.1 37.6,330.6 38.4,332.9 C37.1,333.9 35.6,334.3 34.6,334.7 L32.6,335.6 L25.6,335.6 C23.6,335.6 22.1,335.3 21.6,334.6 Z" fill="#3b342f" stroke="none" stroke-width="1.0"/><ellipse cx="29.1" cy="333.1" rx="4.5" ry="1.8" fill="#7a6e64" fill-opacity="0.6"/><ellipse cx="26.1" cy="328.1" rx="4.5" ry="2.4" fill="#1e1a18" fill-opacity="0.6"/><ellipse cx="35.8" cy="330.7" rx="2.2" ry="1.8" fill="#141210" fill-opacity="0.8"/><circle cx="32.50" cy="328.00" r="1.10" fill="#d2c8be" stroke="none" stroke-width="1.0"/><line x1="25.60" y1="335.50" x2="33.10" y2="335.50" stroke="#c8b8a8" stroke-width="0.6"/><text x="64.00" y="300.90" font-size="6.2" fill="#333333" text-anchor="middle" stroke="#333333" stroke-width="0.15" textLength="34" lengthAdjust="spacingAndGlyphs">In vitro culture</text><text x="63.80" y="307.20" font-size="6.2" fill="#333333" text-anchor="middle" stroke="#333333" stroke-width="0.15" textLength="20" lengthAdjust="spacingAndGlyphs">18 hours</text><line x1="46.40" y1="312.50" x2="77.90" y2="312.50" stroke="#222" stroke-width="1.2"/><path d="M80.60,312.60 L77.40,310.84 L77.40,314.36 Z" fill="#222" stroke="none" stroke-width="1.0"/><rect x="50.70" y="318.40" width="23.90" height="17.80" fill="#f2f2f4"/><rect x="52.20" y="319.60" width="21.40" height="15.60" fill="#ead4e8"/><line x1="52.40" y1="321.50" x2="73.40" y2="321.50" stroke="#dcc0dc" stroke-width="0.5"/><line x1="52.40" y1="324.50" x2="73.40" y2="324.50" stroke="#dcc0dc" stroke-width="0.5"/><line x1="52.40" y1="326.50" x2="73.40" y2="326.50" stroke="#dcc0dc" stroke-width="0.5"/><line x1="52.40" y1="328.50" x2="73.40" y2="328.50" stroke="#dcc0dc" stroke-width="0.5"/><line x1="52.40" y1="330.50" x2="73.40" y2="330.50" stroke="#dcc0dc" stroke-width="0.5"/><line x1="52.40" y1="332.50" x2="73.40" y2="332.50" stroke="#dcc0dc" stroke-width="0.5"/><line x1="53.50" y1="319.80" x2="53.50" y2="335.00" stroke="#d6b8d6" stroke-width="0.5"/><line x1="55.50" y1="319.80" x2="55.50" y2="335.00" stroke="#d6b8d6" stroke-width="0.5"/><line x1="57.50" y1="319.80" x2="57.50" y2="335.00" stroke="#d6b8d6" stroke-width="0.5"/><line x1="62.50" y1="319.80" x2="62.50" y2="335.00" stroke="#d6b8d6" stroke-width="0.5"/><text x="102.90" y="308.70" font-size="6.2" fill="#3a3a3a" text-anchor="middle" stroke="#3a3a3a" stroke-width="0.15" textLength="20.2" lengthAdjust="spacingAndGlyphs">OP-puro</text><text x="102.90" y="315.40" font-size="6.2" fill="#3a3a3a" text-anchor="middle" stroke="#3a3a3a" stroke-width="0.15" textLength="31.9" lengthAdjust="spacingAndGlyphs">and cell cycle</text><text x="102.90" y="321.60" font-size="6.2" fill="#3a3a3a" text-anchor="middle" stroke="#3a3a3a" stroke-width="0.15" textLength="17.6" lengthAdjust="spacingAndGlyphs">analysis</text><text x="133.90" y="267.00" font-size="11.5" fill="#000" text-anchor="start" font-weight="bold">G</text><line x1="171.50" y1="278.60" x2="171.50" y2="355.95" stroke="#1e1e1e" stroke-width="1.1"/><line x1="169.10" y1="280.50" x2="171.50" y2="280.50" stroke="#1e1e1e" stroke-width="0.9"/><text x="165.50" y="282.33" font-size="6.5" fill="#333333" text-anchor="end" stroke="#333333" stroke-width="0.15">2.0</text><line x1="169.10" y1="299.50" x2="171.50" y2="299.50" stroke="#1e1e1e" stroke-width="0.9"/><text x="165.50" y="301.53" font-size="6.5" fill="#333333" text-anchor="end" stroke="#333333" stroke-width="0.15">1.5</text><line x1="169.10" y1="317.50" x2="171.50" y2="317.50" stroke="#1e1e1e" stroke-width="0.9"/><text x="165.50" y="320.23" font-size="6.5" fill="#333333" text-anchor="end" stroke="#333333" stroke-width="0.15">1.0</text><line x1="169.10" y1="336.50" x2="171.50" y2="336.50" stroke="#1e1e1e" stroke-width="0.9"/><text x="165.50" y="339.03" font-size="6.5" fill="#333333" text-anchor="end" stroke="#333333" stroke-width="0.15">0.5</text><line x1="169.10" y1="355.50" x2="171.50" y2="355.50" stroke="#1e1e1e" stroke-width="0.9"/><text x="165.50" y="357.73" font-size="6.5" fill="#333333" text-anchor="end" stroke="#333333" stroke-width="0.15">0</text><line x1="170.95" y1="355.50" x2="243.00" y2="355.50" stroke="#1e1e1e" stroke-width="1.1"/><line x1="191.50" y1="355.40" x2="191.50" y2="357.70" stroke="#1e1e1e" stroke-width="0.9"/><line x1="222.50" y1="355.40" x2="222.50" y2="357.70" stroke="#1e1e1e" stroke-width="0.9"/><text x="141.25" y="314.40" font-size="8.8" fill="#333333" text-anchor="middle" stroke="#333333" stroke-width="0.15" textLength="67.5" lengthAdjust="spacingAndGlyphs" transform="rotate(-90 141.25 314.40)">Relative rate of protein</text><text x="151.65" y="314.10" font-size="8.8" fill="#333333" text-anchor="middle" stroke="#333333" stroke-width="0.15" textLength="28" lengthAdjust="spacingAndGlyphs" transform="rotate(-90 151.65 314.10)">synthesis</text><text x="191.90" y="366.90" font-size="6.6" fill="#333333" text-anchor="middle" stroke="#333333" stroke-width="0.15">WT</text><text x="191.90" y="374.30" font-size="6.6" fill="#333333" text-anchor="middle" stroke="#333333" stroke-width="0.15">HSC</text><text x="222.90" y="366.90" font-size="6.6" fill="#333333" text-anchor="middle" stroke="#333333" stroke-width="0.15" textLength="34.4" lengthAdjust="spacingAndGlyphs">CD99 Gt/Gt</text><text x="222.90" y="374.30" font-size="6.6" fill="#333333" text-anchor="middle" stroke="#333333" stroke-width="0.15">HSC</text><text x="207.30" y="267.60" font-size="8.8" fill="#333333" text-anchor="middle" stroke="#333333" stroke-width="0.15" textLength="15.8" lengthAdjust="spacingAndGlyphs">Bulk</text><line x1="193.40" y1="277.50" x2="222.00" y2="277.50" stroke="#1e1e1e" stroke-width="0.9"/><text x="208.80" y="278.30" font-size="6.5" fill="#333333" text-anchor="middle" stroke="#333333" stroke-width="0.15">***</text><line x1="191.50" y1="313.30" x2="191.50" y2="322.30" stroke="#3d6088" stroke-width="0.85"/><line x1="187.50" y1="313.50" x2="195.90" y2="313.50" stroke="#3d6088" stroke-width="0.85"/><line x1="187.50" y1="322.50" x2="195.90" y2="322.50" stroke="#3d6088" stroke-width="0.85"/><line x1="183.90" y1="317.50" x2="199.50" y2="317.50" stroke="#24384c" stroke-width="1.1"/><rect x="190.15" y="306.95" width="3.10" height="3.10" fill="#1d4e7e"/><rect x="190.15" y="311.15" width="3.10" height="3.10" fill="#1d4e7e"/><rect x="181.55" y="319.75" width="3.10" height="3.10" fill="#1d4e7e"/><rect x="186.75" y="319.45" width="3.10" height="3.10" fill="#1d4e7e"/><rect x="190.15" y="320.35" width="3.10" height="3.10" fill="#1d4e7e"/><rect x="194.95" y="315.95" width="3.10" height="3.10" fill="#1d4e7e"/><rect x="195.95" y="319.75" width="3.10" height="3.10" fill="#1d4e7e"/><rect x="199.25" y="320.35" width="3.10" height="3.10" fill="#1d4e7e"/><rect x="184.45" y="318.45" width="3.10" height="3.10" fill="#1d4e7e"/><line x1="222.50" y1="286.40" x2="222.50" y2="313.40" stroke="#b04a66" stroke-width="0.85"/><line x1="218.10" y1="286.50" x2="227.30" y2="286.50" stroke="#b04a66" stroke-width="0.85"/><line x1="218.10" y1="313.50" x2="227.30" y2="313.50" stroke="#b04a66" stroke-width="0.85"/><line x1="212.80" y1="299.50" x2="232.60" y2="299.50" stroke="#3a3a3a" stroke-width="1.1"/><rect x="221.05" y="281.75" width="3.10" height="3.10" fill="#c2183f"/><rect x="217.75" y="285.95" width="3.10" height="3.10" fill="#c2183f"/><rect x="224.15" y="286.35" width="3.10" height="3.10" fill="#c2183f"/><rect x="221.05" y="292.65" width="3.10" height="3.10" fill="#c2183f"/><rect x="221.05" y="301.85" width="3.10" height="3.10" fill="#c2183f"/><rect x="217.75" y="307.85" width="3.10" height="3.10" fill="#c2183f"/><rect x="224.15" y="310.95" width="3.10" height="3.10" fill="#c2183f"/><rect x="221.05" y="318.25" width="3.10" height="3.10" fill="#c2183f"/><line x1="289.50" y1="278.60" x2="289.50" y2="355.95" stroke="#1e1e1e" stroke-width="1.1"/><line x1="287.40" y1="280.50" x2="289.80" y2="280.50" stroke="#1e1e1e" stroke-width="0.9"/><text x="283.80" y="282.33" font-size="6.5" fill="#333333" text-anchor="end" stroke="#333333" stroke-width="0.15">2.0</text><line x1="287.40" y1="299.50" x2="289.80" y2="299.50" stroke="#1e1e1e" stroke-width="0.9"/><text x="283.80" y="301.53" font-size="6.5" fill="#333333" text-anchor="end" stroke="#333333" stroke-width="0.15">1.5</text><line x1="287.40" y1="317.50" x2="289.80" y2="317.50" stroke="#1e1e1e" stroke-width="0.9"/><text x="283.80" y="320.23" font-size="6.5" fill="#333333" text-anchor="end" stroke="#333333" stroke-width="0.15">1.0</text><line x1="287.40" y1="336.50" x2="289.80" y2="336.50" stroke="#1e1e1e" stroke-width="0.9"/><text x="283.80" y="339.03" font-size="6.5" fill="#333333" text-anchor="end" stroke="#333333" stroke-width="0.15">0.5</text><line x1="287.40" y1="355.50" x2="289.80" y2="355.50" stroke="#1e1e1e" stroke-width="0.9"/><text x="283.80" y="357.73" font-size="6.5" fill="#333333" text-anchor="end" stroke="#333333" stroke-width="0.15">0</text><line x1="289.25" y1="355.50" x2="360.40" y2="355.50" stroke="#1e1e1e" stroke-width="1.1"/><line x1="310.50" y1="355.40" x2="310.50" y2="357.70" stroke="#1e1e1e" stroke-width="0.9"/><line x1="340.50" y1="355.40" x2="340.50" y2="357.70" stroke="#1e1e1e" stroke-width="0.9"/><text x="259.45" y="314.40" font-size="8.8" fill="#333333" text-anchor="middle" stroke="#333333" stroke-width="0.15" textLength="67.5" lengthAdjust="spacingAndGlyphs" transform="rotate(-90 259.45 314.40)">Relative rate of protein</text><text x="270.25" y="314.10" font-size="8.8" fill="#333333" text-anchor="middle" stroke="#333333" stroke-width="0.15" textLength="28" lengthAdjust="spacingAndGlyphs" transform="rotate(-90 270.25 314.10)">synthesis</text><text x="310.00" y="366.90" font-size="6.6" fill="#333333" text-anchor="middle" stroke="#333333" stroke-width="0.15">WT</text><text x="310.00" y="374.30" font-size="6.6" fill="#333333" text-anchor="middle" stroke="#333333" stroke-width="0.15">HSC</text><text x="340.20" y="366.90" font-size="6.6" fill="#333333" text-anchor="middle" stroke="#333333" stroke-width="0.15" textLength="34.4" lengthAdjust="spacingAndGlyphs">CD99 Gt/Gt</text><text x="340.20" y="374.30" font-size="6.6" fill="#333333" text-anchor="middle" stroke="#333333" stroke-width="0.15">HSC</text><text x="314.40" y="267.10" font-size="8.8" fill="#333333" text-anchor="start" stroke="#333333" stroke-width="0.15" textLength="5.6" lengthAdjust="spacingAndGlyphs">G</text><text x="320.80" y="269.10" font-size="4.6" fill="#333333" text-anchor="start" stroke="#333333" stroke-width="0.15">0</text><text x="322.20" y="267.10" font-size="8.8" fill="#333333" text-anchor="start" stroke="#333333" stroke-width="0.15" textLength="10.6" lengthAdjust="spacingAndGlyphs">/G</text><text x="333.30" y="269.10" font-size="4.6" fill="#333333" text-anchor="start" stroke="#333333" stroke-width="0.15">1</text><line x1="310.60" y1="278.50" x2="339.40" y2="278.50" stroke="#1e1e1e" stroke-width="0.9"/><text x="325.40" y="279.00" font-size="6.5" fill="#333333" text-anchor="middle" stroke="#333333" stroke-width="0.15">*</text><line x1="310.50" y1="313.30" x2="310.50" y2="322.30" stroke="#3d6088" stroke-width="0.85"/><line x1="305.80" y1="313.50" x2="314.20" y2="313.50" stroke="#3d6088" stroke-width="0.85"/><line x1="305.80" y1="322.50" x2="314.20" y2="322.50" stroke="#3d6088" stroke-width="0.85"/><line x1="302.40" y1="317.50" x2="317.60" y2="317.50" stroke="#24384c" stroke-width="1.1"/><rect x="308.45" y="307.25" width="3.10" height="3.10" fill="#1d4e7e"/><rect x="308.45" y="311.75" width="3.10" height="3.10" fill="#1d4e7e"/><rect x="299.45" y="319.75" width="3.10" height="3.10" fill="#1d4e7e"/><rect x="304.25" y="319.75" width="3.10" height="3.10" fill="#1d4e7e"/><rect x="308.45" y="320.35" width="3.10" height="3.10" fill="#1d4e7e"/><rect x="312.85" y="315.95" width="3.10" height="3.10" fill="#1d4e7e"/><rect x="313.45" y="319.75" width="3.10" height="3.10" fill="#1d4e7e"/><rect x="317.25" y="320.35" width="3.10" height="3.10" fill="#1d4e7e"/><line x1="340.50" y1="287.70" x2="340.50" y2="313.10" stroke="#b04a66" stroke-width="0.85"/><line x1="336.30" y1="287.50" x2="344.10" y2="287.50" stroke="#b04a66" stroke-width="0.85"/><line x1="336.30" y1="313.50" x2="344.10" y2="313.50" stroke="#b04a66" stroke-width="0.85"/><line x1="330.10" y1="300.50" x2="350.30" y2="300.50" stroke="#2f5a5a" stroke-width="1.1"/><rect x="338.45" y="282.25" width="3.10" height="3.10" fill="#c2183f"/><rect x="334.95" y="285.15" width="3.10" height="3.10" fill="#c2183f"/><rect x="341.75" y="287.65" width="3.10" height="3.10" fill="#c2183f"/><rect x="338.45" y="292.85" width="3.10" height="3.10" fill="#c2183f"/><rect x="338.45" y="302.45" width="3.10" height="3.10" fill="#c2183f"/><rect x="334.65" y="307.85" width="3.10" height="3.10" fill="#c2183f"/><rect x="342.65" y="311.15" width="3.10" height="3.10" fill="#c2183f"/><rect x="338.45" y="317.85" width="3.10" height="3.10" fill="#c2183f"/><line x1="407.50" y1="278.60" x2="407.50" y2="355.95" stroke="#1e1e1e" stroke-width="1.1"/><line x1="405.20" y1="280.50" x2="407.60" y2="280.50" stroke="#1e1e1e" stroke-width="0.9"/><text x="401.60" y="282.33" font-size="6.5" fill="#333333" text-anchor="end" stroke="#333333" stroke-width="0.15">2.0</text><line x1="405.20" y1="299.50" x2="407.60" y2="299.50" stroke="#1e1e1e" stroke-width="0.9"/><text x="401.60" y="301.53" font-size="6.5" fill="#333333" text-anchor="end" stroke="#333333" stroke-width="0.15">1.5</text><line x1="405.20" y1="317.50" x2="407.60" y2="317.50" stroke="#1e1e1e" stroke-width="0.9"/><text x="401.60" y="320.23" font-size="6.5" fill="#333333" text-anchor="end" stroke="#333333" stroke-width="0.15">1.0</text><line x1="405.20" y1="336.50" x2="407.60" y2="336.50" stroke="#1e1e1e" stroke-width="0.9"/><text x="401.60" y="339.03" font-size="6.5" fill="#333333" text-anchor="end" stroke="#333333" stroke-width="0.15">0.5</text><line x1="405.20" y1="355.50" x2="407.60" y2="355.50" stroke="#1e1e1e" stroke-width="0.9"/><text x="401.60" y="357.73" font-size="6.5" fill="#333333" text-anchor="end" stroke="#333333" stroke-width="0.15">0</text><line x1="407.05" y1="355.50" x2="477.90" y2="355.50" stroke="#1e1e1e" stroke-width="1.1"/><line x1="427.50" y1="355.40" x2="427.50" y2="357.70" stroke="#1e1e1e" stroke-width="0.9"/><line x1="458.50" y1="355.40" x2="458.50" y2="357.70" stroke="#1e1e1e" stroke-width="0.9"/><text x="376.95" y="314.40" font-size="8.8" fill="#333333" text-anchor="middle" stroke="#333333" stroke-width="0.15" textLength="67.5" lengthAdjust="spacingAndGlyphs" transform="rotate(-90 376.95 314.40)">Relative rate of protein</text><text x="387.65" y="314.10" font-size="8.8" fill="#333333" text-anchor="middle" stroke="#333333" stroke-width="0.15" textLength="28" lengthAdjust="spacingAndGlyphs" transform="rotate(-90 387.65 314.10)">synthesis</text><text x="427.50" y="366.90" font-size="6.6" fill="#333333" text-anchor="middle" stroke="#333333" stroke-width="0.15">WT</text><text x="427.50" y="374.30" font-size="6.6" fill="#333333" text-anchor="middle" stroke="#333333" stroke-width="0.15">HSC</text><text x="458.10" y="366.90" font-size="6.6" fill="#333333" text-anchor="middle" stroke="#333333" stroke-width="0.15" textLength="34.4" lengthAdjust="spacingAndGlyphs">CD99 Gt/Gt</text><text x="458.10" y="374.30" font-size="6.6" fill="#333333" text-anchor="middle" stroke="#333333" stroke-width="0.15">HSC</text><text x="429.60" y="267.60" font-size="8.8" fill="#333333" text-anchor="start" stroke="#333333" stroke-width="0.15" textLength="14.5" lengthAdjust="spacingAndGlyphs">S/G</text><text x="444.30" y="269.60" font-size="4.6" fill="#333333" text-anchor="start" stroke="#333333" stroke-width="0.15">2</text><text x="446.00" y="267.60" font-size="8.8" fill="#333333" text-anchor="start" stroke="#333333" stroke-width="0.15" textLength="11.0" lengthAdjust="spacingAndGlyphs">/M</text><line x1="429.20" y1="286.50" x2="457.70" y2="286.50" stroke="#1e1e1e" stroke-width="0.9"/><text x="443.80" y="286.70" font-size="6.5" fill="#333333" text-anchor="middle" stroke="#333333" stroke-width="0.15">*</text><line x1="427.50" y1="307.90" x2="427.50" y2="328.10" stroke="#3d6088" stroke-width="0.85"/><line x1="423.30" y1="307.50" x2="432.50" y2="307.50" stroke="#3d6088" stroke-width="0.85"/><line x1="423.30" y1="328.50" x2="432.50" y2="328.50" stroke="#3d6088" stroke-width="0.85"/><line x1="418.30" y1="317.50" x2="437.50" y2="317.50" stroke="#24384c" stroke-width="1.1"/><rect x="426.35" y="296.75" width="3.10" height="3.10" fill="#1d4e7e"/><rect x="423.05" y="310.75" width="3.10" height="3.10" fill="#1d4e7e"/><rect x="429.25" y="311.55" width="3.10" height="3.10" fill="#1d4e7e"/><rect x="423.05" y="317.85" width="3.10" height="3.10" fill="#1d4e7e"/><rect x="429.25" y="317.25" width="3.10" height="3.10" fill="#1d4e7e"/><rect x="425.95" y="321.15" width="3.10" height="3.10" fill="#1d4e7e"/><rect x="426.35" y="325.55" width="3.10" height="3.10" fill="#1d4e7e"/><rect x="426.35" y="328.45" width="3.10" height="3.10" fill="#1d4e7e"/><line x1="458.50" y1="296.30" x2="458.50" y2="312.30" stroke="#b04a66" stroke-width="0.85"/><line x1="453.30" y1="296.50" x2="463.10" y2="296.50" stroke="#b04a66" stroke-width="0.85"/><line x1="453.30" y1="312.50" x2="463.10" y2="312.50" stroke="#b04a66" stroke-width="0.85"/><line x1="448.10" y1="304.50" x2="468.30" y2="304.50" stroke="#3a3a3a" stroke-width="1.1"/><rect x="462.85" y="291.35" width="3.10" height="3.10" fill="#c2183f"/><rect x="456.55" y="293.85" width="3.10" height="3.10" fill="#c2183f"/><rect x="450.75" y="300.15" width="3.10" height="3.10" fill="#c2183f"/><rect x="462.85" y="301.55" width="3.10" height="3.10" fill="#c2183f"/><rect x="456.55" y="303.45" width="3.10" height="3.10" fill="#c2183f"/><rect x="456.55" y="310.75" width="3.10" height="3.10" fill="#c2183f"/><rect x="462.85" y="310.75" width="3.10" height="3.10" fill="#c2183f"/><rect x="450.75" y="313.05" width="3.10" height="3.10" fill="#c2183f"/><text x="7.30" y="397.70" font-size="11.5" fill="#000" text-anchor="start" font-weight="bold">H</text><text x="28.60" y="424.70" font-size="6.0" fill="#333333" text-anchor="middle" stroke="#333333" stroke-width="0.15" textLength="19.5" lengthAdjust="spacingAndGlyphs">B6 (WT)</text><path d="M8.3,434.0 C13.5,434.3 17.5,435.6 22.0,435.6" fill="none" stroke="#dedede" stroke-width="1.8"/><path d="M21.5,437.5 C20.0,434.0 21.5,429.5 25.5,428.5 C28.5,427.7 31.0,428.3 32.5,429.2 L33.4,428.1 L34.2,429.9 C35.5,431.0 37.5,433.5 38.3,435.8 C37.0,436.8 35.5,437.2 34.5,437.6 L32.5,438.5 L25.5,438.5 C23.5,438.5 22.0,438.2 21.5,437.5 Z" fill="#3b342f" stroke="none" stroke-width="1.0"/><ellipse cx="29.0" cy="436.0" rx="4.5" ry="1.8" fill="#7a6e64" fill-opacity="0.6"/><ellipse cx="26.0" cy="431.0" rx="4.5" ry="2.4" fill="#1e1a18" fill-opacity="0.6"/><ellipse cx="35.7" cy="433.6" rx="2.2" ry="1.8" fill="#141210" fill-opacity="0.8"/><circle cx="32.40" cy="430.90" r="1.10" fill="#d2c8be" stroke="none" stroke-width="1.0"/><line x1="25.50" y1="438.50" x2="33.00" y2="438.50" stroke="#c8b8a8" stroke-width="0.6"/><text x="27.70" y="450.60" font-size="6.0" fill="#333333" text-anchor="middle" stroke="#333333" stroke-width="0.15" textLength="28.4" lengthAdjust="spacingAndGlyphs">CD99 Gt/Gt</text><path d="M8.3,459.4 C13.5,459.7 17.5,461.0 22.0,461.0" fill="none" stroke="#dedede" stroke-width="1.8"/><path d="M21.5,462.9 C20.0,459.4 21.5,454.9 25.5,453.9 C28.5,453.1 31.0,453.7 32.5,454.6 L33.4,453.5 L34.2,455.3 C35.5,456.4 37.5,458.9 38.3,461.2 C37.0,462.2 35.5,462.6 34.5,463.0 L32.5,463.9 L25.5,463.9 C23.5,463.9 22.0,463.6 21.5,462.9 Z" fill="#3b342f" stroke="none" stroke-width="1.0"/><ellipse cx="29.0" cy="461.4" rx="4.5" ry="1.8" fill="#7a6e64" fill-opacity="0.6"/><ellipse cx="26.0" cy="456.4" rx="4.5" ry="2.4" fill="#1e1a18" fill-opacity="0.6"/><ellipse cx="35.7" cy="459.0" rx="2.2" ry="1.8" fill="#141210" fill-opacity="0.8"/><circle cx="32.40" cy="456.30" r="1.10" fill="#d2c8be" stroke="none" stroke-width="1.0"/><line x1="25.50" y1="464.50" x2="33.00" y2="464.50" stroke="#c8b8a8" stroke-width="0.6"/><text x="61.20" y="435.70" font-size="6.4" fill="#333333" text-anchor="middle" stroke="#333333" stroke-width="0.15" textLength="27.7" lengthAdjust="spacingAndGlyphs">Bortezomib</text><line x1="46.70" y1="445.50" x2="77.80" y2="445.50" stroke="#222" stroke-width="1.2"/><path d="M80.50,445.80 L77.30,444.04 L77.30,447.56 Z" fill="#222" stroke="none" stroke-width="1.0"/><line x1="54.50" y1="439.20" x2="54.50" y2="442.60" stroke="#222" stroke-width="0.8"/><path d="M54.50,444.60 L53.00,441.80 L56.00,441.80 Z" fill="#222" stroke="none" stroke-width="1.0"/><line x1="62.50" y1="439.20" x2="62.50" y2="442.60" stroke="#222" stroke-width="0.8"/><path d="M62.30,444.60 L60.80,441.80 L63.80,441.80 Z" fill="#222" stroke="none" stroke-width="1.0"/><line x1="70.50" y1="439.20" x2="70.50" y2="442.60" stroke="#222" stroke-width="0.8"/><path d="M70.10,444.60 L68.60,441.80 L71.60,441.80 Z" fill="#222" stroke="none" stroke-width="1.0"/><text x="62.00" y="452.50" font-size="6.4" fill="#333333" text-anchor="middle" stroke="#333333" stroke-width="0.15" textLength="22.3" lengthAdjust="spacingAndGlyphs">D0 D1 D2</text><text x="104.50" y="440.10" font-size="6.4" fill="#3a3a3a" text-anchor="middle" stroke="#3a3a3a" stroke-width="0.15" textLength="30.8" lengthAdjust="spacingAndGlyphs">Western Blot</text><text x="104.50" y="446.50" font-size="6.4" fill="#3a3a3a" text-anchor="middle" stroke="#3a3a3a" stroke-width="0.15" textLength="19.5" lengthAdjust="spacingAndGlyphs">Analysis</text><text x="104.50" y="452.90" font-size="6.4" fill="#3a3a3a" text-anchor="middle" stroke="#3a3a3a" stroke-width="0.15">D3</text><text x="139.30" y="397.80" font-size="11.5" fill="#000" text-anchor="start" font-weight="bold">I</text><text x="191.70" y="396.60" font-size="6.8" fill="#333333" text-anchor="middle" stroke="#333333" stroke-width="0.15">WT</text><text x="241.00" y="396.60" font-size="6.8" fill="#333333" text-anchor="middle" stroke="#333333" stroke-width="0.15" textLength="34.6" lengthAdjust="spacingAndGlyphs">CD99 Gt/Gt</text><line x1="168.90" y1="401.50" x2="215.00" y2="401.50" stroke="#555" stroke-width="1.1"/><line x1="217.50" y1="401.50" x2="264.10" y2="401.50" stroke="#555" stroke-width="1.1"/><text x="0" y="0" font-size="6.9" fill="#333333" stroke="#333333" stroke-width="0.15" text-anchor="start" textLength="12.5" lengthAdjust="spacingAndGlyphs" transform="translate(176.27,418.80) rotate(-90)">MEP</text><text x="0" y="0" font-size="6.9" fill="#333333" stroke="#333333" stroke-width="0.15" text-anchor="start" textLength="12.5" lengthAdjust="spacingAndGlyphs" transform="translate(187.27,418.80) rotate(-90)">GMP</text><text x="0" y="0" font-size="6.9" fill="#333333" stroke="#333333" stroke-width="0.15" text-anchor="start" textLength="12.5" lengthAdjust="spacingAndGlyphs" transform="translate(198.77,418.80) rotate(-90)">CMP</text><text x="0" y="0" font-size="6.9" fill="#333333" stroke="#333333" stroke-width="0.15" text-anchor="start" textLength="12.5" lengthAdjust="spacingAndGlyphs" transform="translate(223.77,418.80) rotate(-90)">MEP</text><text x="0" y="0" font-size="6.9" fill="#333333" stroke="#333333" stroke-width="0.15" text-anchor="start" textLength="12.5" lengthAdjust="spacingAndGlyphs" transform="translate(235.07,418.80) rotate(-90)">GMP</text><text x="0" y="0" font-size="6.9" fill="#333333" stroke="#333333" stroke-width="0.15" text-anchor="start" textLength="12.5" lengthAdjust="spacingAndGlyphs" transform="translate(246.67,418.80) rotate(-90)">CMP</text><text x="0" y="0" font-size="6.6" fill="#333333" stroke="#333333" stroke-width="0.15" text-anchor="start" textLength="13.0" lengthAdjust="spacingAndGlyphs" transform="translate(207.96,418.80) rotate(-90)">HSC/</text><text x="0" y="0" font-size="6.6" fill="#333333" stroke="#333333" stroke-width="0.15" text-anchor="start" textLength="12.0" lengthAdjust="spacingAndGlyphs" transform="translate(213.96,418.80) rotate(-90)">MPP</text><text x="0" y="0" font-size="6.6" fill="#333333" stroke="#333333" stroke-width="0.15" text-anchor="start" textLength="13.0" lengthAdjust="spacingAndGlyphs" transform="translate(255.56,418.80) rotate(-90)">HSC/</text><text x="0" y="0" font-size="6.6" fill="#333333" stroke="#333333" stroke-width="0.15" text-anchor="start" textLength="12.0" lengthAdjust="spacingAndGlyphs" transform="translate(261.36,418.80) rotate(-90)">MPP</text><rect x="165.30" y="424.00" width="100.30" height="63.60" fill="#b0b0b0"/><rect x="167.80" y="424.50" width="10.40" height="62.60" fill="url(#lg0)" filter="url(#bl1)"/><g clip-path="url(#lc0)"><path d="M166.80,421.00 L179.20,421.00 L177.70,439.74 L175.50,452.62 L170.50,452.62 L168.30,439.74 Z" fill="#585858" filter="url(#bls)"/></g><rect x="180.00" y="424.50" width="10.30" height="62.60" fill="url(#lg1)" filter="url(#bl1)"/><g clip-path="url(#lc1)"><path d="M179.00,421.00 L191.30,421.00 L189.80,446.39 L188.15,464.70 L182.15,464.70 L180.50,446.39 Z" fill="#1e1e1e" filter="url(#bls)"/></g><rect x="192.00" y="424.50" width="10.00" height="62.60" fill="url(#lg2)" filter="url(#bl1)"/><g clip-path="url(#lc2)"><path d="M191.00,421.00 L203.00,421.00 L201.50,439.74 L199.00,452.62 L195.00,452.62 L192.50,439.74 Z" fill="#5e5e5e" filter="url(#bls)"/></g><rect x="203.80" y="424.50" width="10.00" height="62.60" fill="url(#lg3)" filter="url(#bl1)"/><g clip-path="url(#lc3)"><path d="M202.80,421.00 L214.80,421.00 L213.30,437.99 L210.80,449.44 L206.80,449.44 L204.30,437.99 Z" fill="#6a6a6a" filter="url(#bls)"/></g><rect x="215.60" y="424.50" width="9.80" height="62.60" fill="url(#lg4)" filter="url(#bl1)"/><rect x="227.20" y="424.50" width="10.10" height="62.60" fill="url(#lg5)" filter="url(#bl1)"/><g clip-path="url(#lc5)"><path d="M226.20,421.00 L238.30,421.00 L236.80,443.59 L235.25,459.62 L229.25,459.62 L227.70,443.59 Z" fill="#1a1a1a" filter="url(#bls)"/></g><rect x="239.20" y="424.50" width="9.80" height="62.60" fill="url(#lg6)" filter="url(#bl1)"/><rect x="250.80" y="424.50" width="10.80" height="62.60" fill="url(#lg7)" filter="url(#bl1)"/><g clip-path="url(#lc7)"><path d="M249.80,421.00 L262.60,421.00 L261.10,443.24 L259.20,458.98 L253.20,458.98 L251.30,443.24 Z" fill="#1e1e1e" filter="url(#bls)"/></g><rect x="168.00" y="424.50" width="2.20" height="62.60" fill="url(#edg)" filter="url(#bl1)"/><rect x="198.80" y="424.50" width="3.20" height="62.60" fill="url(#edg)" filter="url(#bl1)"/><rect x="211.60" y="424.50" width="2.00" height="62.60" fill="url(#edg)" filter="url(#bl1)"/><rect x="165.30" y="424.50" width="100.30" height="1.60" fill="#333" fill-opacity="0.45" filter="url(#bl1)"/><circle cx="171.50" cy="464.50" r="0.90" fill="#222" stroke="none" stroke-width="1.0"/><circle cx="229.00" cy="468.00" r="0.70" fill="#333" stroke="none" stroke-width="1.0"/><circle cx="199.00" cy="485.50" r="0.70" fill="#222" stroke="none" stroke-width="1.0"/><circle cx="233.50" cy="486.50" r="0.80" fill="#111" stroke="none" stroke-width="1.0"/><rect x="166.10" y="424.50" width="1.60" height="62.60" fill="#e6e6e6" filter="url(#bl1)"/><rect x="178.30" y="424.50" width="1.60" height="62.60" fill="#e6e6e6" filter="url(#bl1)"/><rect x="190.30" y="424.50" width="1.60" height="62.60" fill="#e6e6e6" filter="url(#bl1)"/><rect x="202.10" y="424.50" width="1.60" height="62.60" fill="#e6e6e6" filter="url(#bl1)"/><rect x="213.80" y="424.50" width="1.60" height="62.60" fill="#e6e6e6" filter="url(#bl1)"/><rect x="225.50" y="424.50" width="1.60" height="62.60" fill="#e6e6e6" filter="url(#bl1)"/><rect x="237.40" y="424.50" width="1.60" height="62.60" fill="#e6e6e6" filter="url(#bl1)"/><rect x="249.10" y="424.50" width="1.60" height="62.60" fill="#e6e6e6" filter="url(#bl1)"/><rect x="261.70" y="424.50" width="1.60" height="62.60" fill="#e6e6e6" filter="url(#bl1)"/><rect x="165.30" y="424.00" width="100.30" height="63.60" fill="none" stroke="#1a1a1a" stroke-width="1.1"/><line x1="160.20" y1="431.50" x2="165.00" y2="431.50" stroke="#222" stroke-width="0.9"/><text x="159.00" y="434.10" font-size="6.2" fill="#333333" text-anchor="end" stroke="#333333" stroke-width="0.15">250 kDa</text><line x1="160.20" y1="441.50" x2="165.00" y2="441.50" stroke="#222" stroke-width="0.9"/><text x="159.00" y="444.00" font-size="6.2" fill="#333333" text-anchor="end" stroke="#333333" stroke-width="0.15">130 kDa</text><line x1="160.20" y1="452.50" x2="165.00" y2="452.50" stroke="#222" stroke-width="0.9"/><text x="159.00" y="454.90" font-size="6.2" fill="#333333" text-anchor="end" stroke="#333333" stroke-width="0.15">100 kDa</text><line x1="160.20" y1="463.50" x2="165.00" y2="463.50" stroke="#222" stroke-width="0.9"/><text x="159.00" y="465.30" font-size="6.2" fill="#333333" text-anchor="end" stroke="#333333" stroke-width="0.15">70 kDa</text><line x1="160.20" y1="475.50" x2="165.00" y2="475.50" stroke="#222" stroke-width="0.9"/><text x="159.00" y="478.10" font-size="6.2" fill="#333333" text-anchor="end" stroke="#333333" stroke-width="0.15">55 kDa</text><text x="268.50" y="455.00" font-size="6.6" fill="#333333" text-anchor="start" stroke="#333333" stroke-width="0.15" textLength="26.2" lengthAdjust="spacingAndGlyphs">Ubiquitin</text><rect x="165.50" y="492.50" width="99.00" height="14.50" fill="#e0e0e0"/><rect x="168.4" y="497.2" width="9.8" height="5.2" rx="2.4" fill="#1e1e1e" filter="url(#bl3)"/><ellipse cx="173.3" cy="498.4" rx="2.6" ry="1.1" fill="#8a8a8a" fill-opacity="0.55" filter="url(#bl3)"/><rect x="179.6" y="496.8" width="9.8" height="6.0" rx="2.4" fill="#141414" filter="url(#bl3)"/><ellipse cx="184.5" cy="498.4" rx="2.6" ry="1.1" fill="#8a8a8a" fill-opacity="0.55" filter="url(#bl3)"/><rect x="191.4" y="497.2" width="9.8" height="5.2" rx="2.4" fill="#1a1a1a" filter="url(#bl3)"/><ellipse cx="196.3" cy="498.4" rx="2.6" ry="1.1" fill="#8a8a8a" fill-opacity="0.55" filter="url(#bl3)"/><rect x="203.1" y="497.4" width="9.8" height="4.8" rx="2.4" fill="#262626" filter="url(#bl3)"/><ellipse cx="208.0" cy="498.4" rx="2.6" ry="1.1" fill="#8a8a8a" fill-opacity="0.55" filter="url(#bl3)"/><rect x="215.9" y="497.6" width="9.8" height="4.4" rx="2.4" fill="#3a3a3a" filter="url(#bl3)"/><ellipse cx="220.8" cy="498.4" rx="2.6" ry="1.1" fill="#8a8a8a" fill-opacity="0.55" filter="url(#bl3)"/><rect x="227.6" y="497.0" width="9.8" height="5.6" rx="2.4" fill="#161616" filter="url(#bl3)"/><ellipse cx="232.5" cy="498.4" rx="2.6" ry="1.1" fill="#8a8a8a" fill-opacity="0.55" filter="url(#bl3)"/><rect x="239.6" y="497.2" width="9.8" height="5.2" rx="2.4" fill="#1c1c1c" filter="url(#bl3)"/><ellipse cx="244.5" cy="498.4" rx="2.6" ry="1.1" fill="#8a8a8a" fill-opacity="0.55" filter="url(#bl3)"/><rect x="251.4" y="497.2" width="9.8" height="5.2" rx="2.4" fill="#222" filter="url(#bl3)"/><ellipse cx="256.3" cy="498.4" rx="2.6" ry="1.1" fill="#8a8a8a" fill-opacity="0.55" filter="url(#bl3)"/><rect x="165.50" y="492.50" width="99.00" height="14.50" fill="none" stroke="#1a1a1a" stroke-width="1.1"/><line x1="160.20" y1="499.50" x2="165.00" y2="499.50" stroke="#222" stroke-width="0.9"/><text x="159.00" y="501.70" font-size="6.2" fill="#333333" text-anchor="end" stroke="#333333" stroke-width="0.15">42 kDa</text><text x="268.50" y="500.80" font-size="6.6" fill="#333333" text-anchor="start" stroke="#333333" stroke-width="0.15" textLength="18.7" lengthAdjust="spacingAndGlyphs">β-actin</text><text x="309.60" y="398.30" font-size="11.5" fill="#000" text-anchor="start" font-weight="bold">J</text><line x1="347.50" y1="405.50" x2="347.50" y2="483.85" stroke="#1e1e1e" stroke-width="1.1"/><line x1="344.60" y1="406.50" x2="347.00" y2="406.50" stroke="#1e1e1e" stroke-width="0.9"/><text x="341.00" y="409.23" font-size="6.5" fill="#333333" text-anchor="end" stroke="#333333" stroke-width="0.15">2.5</text><line x1="344.60" y1="422.50" x2="347.00" y2="422.50" stroke="#1e1e1e" stroke-width="0.9"/><text x="341.00" y="424.63" font-size="6.5" fill="#333333" text-anchor="end" stroke="#333333" stroke-width="0.15">2.0</text><line x1="344.60" y1="437.50" x2="347.00" y2="437.50" stroke="#1e1e1e" stroke-width="0.9"/><text x="341.00" y="439.93" font-size="6.5" fill="#333333" text-anchor="end" stroke="#333333" stroke-width="0.15">1.5</text><line x1="344.60" y1="452.50" x2="347.00" y2="452.50" stroke="#1e1e1e" stroke-width="0.9"/><text x="341.00" y="455.03" font-size="6.5" fill="#333333" text-anchor="end" stroke="#333333" stroke-width="0.15">1.0</text><line x1="344.60" y1="468.50" x2="347.00" y2="468.50" stroke="#1e1e1e" stroke-width="0.9"/><text x="341.00" y="470.33" font-size="6.5" fill="#333333" text-anchor="end" stroke="#333333" stroke-width="0.15">0.5</text><line x1="344.60" y1="483.50" x2="347.00" y2="483.50" stroke="#1e1e1e" stroke-width="0.9"/><text x="341.00" y="485.63" font-size="6.5" fill="#333333" text-anchor="end" stroke="#333333" stroke-width="0.15">0.0</text><line x1="346.45" y1="483.50" x2="461.20" y2="483.50" stroke="#1e1e1e" stroke-width="1.1"/><line x1="359.50" y1="483.30" x2="359.50" y2="485.60" stroke="#1e1e1e" stroke-width="0.9"/><line x1="389.50" y1="483.30" x2="389.50" y2="485.60" stroke="#1e1e1e" stroke-width="0.9"/><line x1="418.50" y1="483.30" x2="418.50" y2="485.60" stroke="#1e1e1e" stroke-width="0.9"/><line x1="448.50" y1="483.30" x2="448.50" y2="485.60" stroke="#1e1e1e" stroke-width="0.9"/><text x="316.04" y="442.20" font-size="8.2" fill="#333333" text-anchor="middle" stroke="#333333" stroke-width="0.15" textLength="64.6" lengthAdjust="spacingAndGlyphs" transform="rotate(-90 316.04 442.20)">Relative ubiquitylated</text><text x="326.64" y="441.60" font-size="8.2" fill="#333333" text-anchor="middle" stroke="#333333" stroke-width="0.15" textLength="36.6" lengthAdjust="spacingAndGlyphs" transform="rotate(-90 326.64 441.60)">protein level</text><text x="360.00" y="494.40" font-size="6.6" fill="#333333" text-anchor="middle" stroke="#333333" stroke-width="0.15" textLength="28.4" lengthAdjust="spacingAndGlyphs">HSC/MPP</text><text x="389.60" y="494.40" font-size="6.6" fill="#333333" text-anchor="middle" stroke="#333333" stroke-width="0.15" textLength="13.8" lengthAdjust="spacingAndGlyphs">CMP</text><text x="418.70" y="494.40" font-size="6.6" fill="#333333" text-anchor="middle" stroke="#333333" stroke-width="0.15" textLength="14.3" lengthAdjust="spacingAndGlyphs">GMP</text><text x="448.20" y="494.40" font-size="6.6" fill="#333333" text-anchor="middle" stroke="#333333" stroke-width="0.15" textLength="13.4" lengthAdjust="spacingAndGlyphs">MEP</text><circle cx="373.70" cy="506.40" r="1.25" fill="#1d4e7e" stroke="none" stroke-width="1.0"/><text x="378.50" y="508.40" font-size="6.6" fill="#333333" text-anchor="start" stroke="#333333" stroke-width="0.15" textLength="9.2" lengthAdjust="spacingAndGlyphs">WT</text><circle cx="399.40" cy="506.40" r="1.45" fill="none" stroke="#c2183f" stroke-width="0.9"/><text x="404.30" y="508.40" font-size="6.6" fill="#333333" text-anchor="start" stroke="#333333" stroke-width="0.15" textLength="34.3" lengthAdjust="spacingAndGlyphs">CD99 Gt/Gt</text><rect x="351.20" y="452.30" width="6.70" height="30.45" fill="#9ebcd7"/><circle cx="352.50" cy="452.50" r="1.70" fill="#1d4e7e" stroke="none" stroke-width="1.0"/><circle cx="354.60" cy="452.50" r="1.70" fill="#1d4e7e" stroke="none" stroke-width="1.0"/><circle cx="356.70" cy="452.50" r="1.70" fill="#1d4e7e" stroke="none" stroke-width="1.0"/><rect x="362.10" y="438.10" width="6.70" height="44.65" fill="#f0a0b3"/><line x1="365.50" y1="433.70" x2="365.50" y2="442.70" stroke="#c2183f" stroke-width="0.9"/><line x1="363.20" y1="433.50" x2="367.60" y2="433.50" stroke="#c2183f" stroke-width="0.9"/><circle cx="365.40" cy="433.70" r="1.80" fill="none" stroke="#c2183f" stroke-width="1.1"/><circle cx="365.40" cy="438.50" r="1.80" fill="none" stroke="#c2183f" stroke-width="1.1"/><circle cx="365.40" cy="442.70" r="1.80" fill="none" stroke="#c2183f" stroke-width="1.1"/><line x1="353.80" y1="428.50" x2="365.00" y2="428.50" stroke="#1e1e1e" stroke-width="0.9"/><text x="359.60" y="429.00" font-size="6.5" fill="#333333" text-anchor="middle" stroke="#333333" stroke-width="0.15">*</text><rect x="380.80" y="449.60" width="6.30" height="33.15" fill="#9ebcd7"/><line x1="383.50" y1="435.60" x2="383.50" y2="460.00" stroke="#2d5a86" stroke-width="0.9"/><line x1="381.70" y1="435.50" x2="386.10" y2="435.50" stroke="#2d5a86" stroke-width="0.9"/><line x1="381.70" y1="460.50" x2="386.10" y2="460.50" stroke="#2d5a86" stroke-width="0.9"/><circle cx="383.80" cy="435.60" r="1.70" fill="#1d4e7e" stroke="none" stroke-width="1.0"/><circle cx="381.30" cy="456.20" r="1.70" fill="#1d4e7e" stroke="none" stroke-width="1.0"/><circle cx="386.20" cy="454.80" r="1.70" fill="#1d4e7e" stroke="none" stroke-width="1.0"/><rect x="391.90" y="447.70" width="6.40" height="35.05" fill="#f0a0b3"/><line x1="395.50" y1="436.50" x2="395.50" y2="456.70" stroke="#c2183f" stroke-width="0.9"/><line x1="393.00" y1="436.50" x2="397.40" y2="436.50" stroke="#c2183f" stroke-width="0.9"/><circle cx="395.20" cy="436.50" r="1.80" fill="none" stroke="#c2183f" stroke-width="1.1"/><circle cx="395.20" cy="448.10" r="1.80" fill="none" stroke="#c2183f" stroke-width="1.1"/><circle cx="395.20" cy="456.70" r="1.80" fill="none" stroke="#c2183f" stroke-width="1.1"/><rect x="410.20" y="433.10" width="6.30" height="49.65" fill="#9ebcd7"/><line x1="413.50" y1="421.20" x2="413.50" y2="440.00" stroke="#2d5a86" stroke-width="0.9"/><line x1="411.30" y1="421.50" x2="415.70" y2="421.50" stroke="#2d5a86" stroke-width="0.9"/><circle cx="413.50" cy="421.20" r="1.70" fill="#1d4e7e" stroke="none" stroke-width="1.0"/><circle cx="411.20" cy="438.50" r="1.70" fill="#1d4e7e" stroke="none" stroke-width="1.0"/><circle cx="415.60" cy="435.60" r="1.70" fill="#1d4e7e" stroke="none" stroke-width="1.0"/><rect x="421.20" y="439.40" width="6.30" height="43.35" fill="#f0a0b3"/><line x1="424.50" y1="432.30" x2="424.50" y2="446.20" stroke="#c2183f" stroke-width="0.9"/><line x1="422.00" y1="432.50" x2="426.40" y2="432.50" stroke="#c2183f" stroke-width="0.9"/><circle cx="424.20" cy="432.30" r="1.80" fill="none" stroke="#c2183f" stroke-width="1.1"/><circle cx="424.20" cy="439.40" r="1.80" fill="none" stroke="#c2183f" stroke-width="1.1"/><circle cx="424.20" cy="446.20" r="1.80" fill="none" stroke="#c2183f" stroke-width="1.1"/><rect x="440.40" y="444.20" width="5.30" height="38.55" fill="#9ebcd7"/><line x1="442.50" y1="437.30" x2="442.50" y2="451.00" stroke="#2d5a86" stroke-width="0.9"/><line x1="440.70" y1="437.50" x2="445.10" y2="437.50" stroke="#2d5a86" stroke-width="0.9"/><circle cx="442.90" cy="437.60" r="1.70" fill="#1d4e7e" stroke="none" stroke-width="1.0"/><circle cx="442.90" cy="443.10" r="1.70" fill="#1d4e7e" stroke="none" stroke-width="1.0"/><circle cx="442.90" cy="450.00" r="1.70" fill="#1d4e7e" stroke="none" stroke-width="1.0"/><rect x="451.20" y="454.60" width="5.30" height="28.15" fill="#f0a0b3"/><circle cx="451.90" cy="451.20" r="1.80" fill="none" stroke="#c2183f" stroke-width="1.1"/><circle cx="455.20" cy="453.20" r="1.80" fill="none" stroke="#c2183f" stroke-width="1.1"/><circle cx="452.60" cy="455.80" r="1.80" fill="none" stroke="#c2183f" stroke-width="1.1"/><text x="439.40" y="427.40" font-size="6.4" fill="#333333" text-anchor="start" stroke="#333333" stroke-width="0.15" font-style="italic" textLength="3.3" lengthAdjust="spacingAndGlyphs">P</text><text x="444.70" y="427.40" font-size="6.4" fill="#333333" text-anchor="start" stroke="#333333" stroke-width="0.15" textLength="3.4" lengthAdjust="spacingAndGlyphs">=</text><text x="450.20" y="427.40" font-size="6.4" fill="#333333" text-anchor="start" stroke="#333333" stroke-width="0.15" textLength="8.6" lengthAdjust="spacingAndGlyphs">.15</text><line x1="443.80" y1="431.00" x2="454.90" y2="431.00" stroke="#444" stroke-width="1.4"/><text x="7.30" y="531.30" font-size="11.5" fill="#000" text-anchor="start" font-weight="bold">K</text><text x="62.50" y="532.70" font-size="6.8" fill="#333333" text-anchor="middle" stroke="#333333" stroke-width="0.15">WT</text><text x="111.50" y="532.70" font-size="6.8" fill="#333333" text-anchor="middle" stroke="#333333" stroke-width="0.15" textLength="34.6" lengthAdjust="spacingAndGlyphs">CD99 Gt/Gt</text><line x1="39.50" y1="537.50" x2="85.80" y2="537.50" stroke="#444" stroke-width="1.0"/><line x1="88.50" y1="537.50" x2="134.80" y2="537.50" stroke="#444" stroke-width="1.0"/><text x="0" y="0" font-size="6.9" fill="#333333" stroke="#333333" stroke-width="0.15" text-anchor="start" textLength="13.0" lengthAdjust="spacingAndGlyphs" transform="translate(46.77,554.60) rotate(-90)">MEP</text><text x="0" y="0" font-size="6.9" fill="#333333" stroke="#333333" stroke-width="0.15" text-anchor="start" textLength="13.0" lengthAdjust="spacingAndGlyphs" transform="translate(57.97,554.60) rotate(-90)">GMP</text><text x="0" y="0" font-size="6.9" fill="#333333" stroke="#333333" stroke-width="0.15" text-anchor="start" textLength="13.0" lengthAdjust="spacingAndGlyphs" transform="translate(69.37,554.60) rotate(-90)">CMP</text><text x="0" y="0" font-size="6.6" fill="#333333" stroke="#333333" stroke-width="0.15" text-anchor="start" textLength="13.5" lengthAdjust="spacingAndGlyphs" transform="translate(78.06,554.60) rotate(-90)">HSC/</text><text x="0" y="0" font-size="6.6" fill="#333333" stroke="#333333" stroke-width="0.15" text-anchor="start" textLength="12.5" lengthAdjust="spacingAndGlyphs" transform="translate(84.26,554.60) rotate(-90)">MPP</text><text x="0" y="0" font-size="6.9" fill="#333333" stroke="#333333" stroke-width="0.15" text-anchor="start" textLength="13.0" lengthAdjust="spacingAndGlyphs" transform="translate(93.87,554.60) rotate(-90)">MEP</text><text x="0" y="0" font-size="6.9" fill="#333333" stroke="#333333" stroke-width="0.15" text-anchor="start" textLength="13.0" lengthAdjust="spacingAndGlyphs" transform="translate(105.37,554.60) rotate(-90)">GMP</text><text x="0" y="0" font-size="6.9" fill="#333333" stroke="#333333" stroke-width="0.15" text-anchor="start" textLength="13.0" lengthAdjust="spacingAndGlyphs" transform="translate(116.57,554.60) rotate(-90)">CMP</text><text x="0" y="0" font-size="6.6" fill="#333333" stroke="#333333" stroke-width="0.15" text-anchor="start" textLength="13.5" lengthAdjust="spacingAndGlyphs" transform="translate(125.66,554.60) rotate(-90)">HSC/</text><text x="0" y="0" font-size="6.6" fill="#333333" stroke="#333333" stroke-width="0.15" text-anchor="start" textLength="12.5" lengthAdjust="spacingAndGlyphs" transform="translate(131.86,554.60) rotate(-90)">MPP</text><rect x="38.50" y="557.60" width="97.30" height="13.20" fill="#d6d6d6"/><path d="M40.6,559.6 L51.2,559.6 L51.2,564.4 Q51.2,567.8 47.8,567.8 L44.0,567.8 Q40.6,567.8 40.6,564.4 Z" fill="#111" stroke="none" stroke-width="1.0" filter="url(#bl3)"/><path d="M43.2,559.1 L48.6,559.1 L48.3,562.1 Q45.9,564.1 43.5,562.1 Z" fill="#d0d0d0" stroke="none" stroke-width="1.0" filter="url(#bl5)"/><path d="M51.8,559.6 L62.4,559.6 L62.4,564.4 Q62.4,567.8 59.0,567.8 L55.2,567.8 Q51.8,567.8 51.8,564.4 Z" fill="#111" stroke="none" stroke-width="1.0" filter="url(#bl3)"/><path d="M54.4,559.1 L59.8,559.1 L59.5,562.1 Q57.1,564.1 54.7,562.1 Z" fill="#c8c8c8" stroke="none" stroke-width="1.0" filter="url(#bl5)"/><path d="M63.2,559.6 L73.8,559.6 L73.8,564.4 Q73.8,567.8 70.4,567.8 L66.6,567.8 Q63.2,567.8 63.2,564.4 Z" fill="#111" stroke="none" stroke-width="1.0" filter="url(#bl3)"/><path d="M65.8,559.1 L71.2,559.1 L70.9,562.1 Q68.5,564.1 66.1,562.1 Z" fill="#c8c8c8" stroke="none" stroke-width="1.0" filter="url(#bl5)"/><path d="M74.8,559.6 L85.4,559.6 L85.4,564.4 Q85.4,567.8 82.0,567.8 L78.2,567.8 Q74.8,567.8 74.8,564.4 Z" fill="#8a8a8a" stroke="none" stroke-width="1.0" filter="url(#bl3)"/><path d="M77.4,559.1 L82.8,559.1 L82.5,562.1 Q80.1,564.1 77.7,562.1 Z" fill="#d0d0d0" stroke="none" stroke-width="1.0" filter="url(#bl5)"/><path d="M87.7,559.6 L98.3,559.6 L98.3,564.4 Q98.3,567.8 94.9,567.8 L91.1,567.8 Q87.7,567.8 87.7,564.4 Z" fill="#111" stroke="none" stroke-width="1.0" filter="url(#bl3)"/><path d="M90.3,559.1 L95.7,559.1 L95.4,562.1 Q93.0,564.1 90.6,562.1 Z" fill="#c8c8c8" stroke="none" stroke-width="1.0" filter="url(#bl5)"/><path d="M99.2,559.6 L109.8,559.6 L109.8,564.4 Q109.8,567.8 106.4,567.8 L102.6,567.8 Q99.2,567.8 99.2,564.4 Z" fill="#111" stroke="none" stroke-width="1.0" filter="url(#bl3)"/><path d="M101.8,559.1 L107.2,559.1 L106.9,562.1 Q104.5,564.1 102.1,562.1 Z" fill="#c8c8c8" stroke="none" stroke-width="1.0" filter="url(#bl5)"/><path d="M110.4,559.6 L121.0,559.6 L121.0,564.4 Q121.0,567.8 117.6,567.8 L113.8,567.8 Q110.4,567.8 110.4,564.4 Z" fill="#111" stroke="none" stroke-width="1.0" filter="url(#bl3)"/><path d="M113.0,559.1 L118.4,559.1 L118.1,562.1 Q115.7,564.1 113.3,562.1 Z" fill="#c8c8c8" stroke="none" stroke-width="1.0" filter="url(#bl5)"/><path d="M122.4,559.6 L133.0,559.6 L133.0,564.4 Q133.0,567.8 129.6,567.8 L125.8,567.8 Q122.4,567.8 122.4,564.4 Z" fill="#161616" stroke="none" stroke-width="1.0" filter="url(#bl3)"/><path d="M125.0,559.1 L130.4,559.1 L130.1,562.1 Q127.7,564.1 125.3,562.1 Z" fill="#c8c8c8" stroke="none" stroke-width="1.0" filter="url(#bl5)"/><rect x="38.50" y="557.60" width="97.30" height="13.20" fill="none" stroke="#1a1a1a" stroke-width="1.1"/><line x1="33.60" y1="563.50" x2="38.30" y2="563.50" stroke="#222" stroke-width="0.9"/><text x="32.60" y="566.00" font-size="6.6" fill="#333333" text-anchor="end" stroke="#333333" stroke-width="0.15">42 kDa</text><text x="140.00" y="566.00" font-size="6.6" fill="#333333" text-anchor="start" stroke="#333333" stroke-width="0.15">p-EIF2α</text><rect x="38.50" y="579.00" width="97.30" height="13.40" fill="#eeeeee"/><path d="M40.6,581.4 L51.2,581.4 L51.2,586.4 Q51.2,589.8 47.8,589.8 L44.0,589.8 Q40.6,589.8 40.6,586.4 Z" fill="#111" stroke="none" stroke-width="1.0" filter="url(#bl3)"/><path d="M43.2,580.9 L48.6,580.9 L48.3,584.0 Q45.9,586.0 43.5,584.0 Z" fill="#d8d8d8" stroke="none" stroke-width="1.0" filter="url(#bl5)"/><path d="M51.8,581.4 L62.4,581.4 L62.4,586.4 Q62.4,589.8 59.0,589.8 L55.2,589.8 Q51.8,589.8 51.8,586.4 Z" fill="#0c0c0c" stroke="none" stroke-width="1.0" filter="url(#bl3)"/><path d="M54.4,580.9 L59.8,580.9 L59.5,584.0 Q57.1,586.0 54.7,584.0 Z" fill="#d0d0d0" stroke="none" stroke-width="1.0" filter="url(#bl5)"/><path d="M63.2,581.4 L73.8,581.4 L73.8,586.4 Q73.8,589.8 70.4,589.8 L66.6,589.8 Q63.2,589.8 63.2,586.4 Z" fill="#151515" stroke="none" stroke-width="1.0" filter="url(#bl3)"/><path d="M65.8,580.9 L71.2,580.9 L70.9,584.0 Q68.5,586.0 66.1,584.0 Z" fill="#d8d8d8" stroke="none" stroke-width="1.0" filter="url(#bl5)"/><path d="M74.8,581.4 L85.4,581.4 L85.4,586.4 Q85.4,589.8 82.0,589.8 L78.2,589.8 Q74.8,589.8 74.8,586.4 Z" fill="#6a6a6a" stroke="none" stroke-width="1.0" filter="url(#bl3)"/><path d="M77.4,580.9 L82.8,580.9 L82.5,584.0 Q80.1,586.0 77.7,584.0 Z" fill="#dcdcdc" stroke="none" stroke-width="1.0" filter="url(#bl5)"/><path d="M87.7,581.4 L98.3,581.4 L98.3,586.4 Q98.3,589.8 94.9,589.8 L91.1,589.8 Q87.7,589.8 87.7,586.4 Z" fill="#111" stroke="none" stroke-width="1.0" filter="url(#bl3)"/><path d="M90.3,580.9 L95.7,580.9 L95.4,584.0 Q93.0,586.0 90.6,584.0 Z" fill="#d8d8d8" stroke="none" stroke-width="1.0" filter="url(#bl5)"/><path d="M99.2,581.4 L109.8,581.4 L109.8,586.4 Q109.8,589.8 106.4,589.8 L102.6,589.8 Q99.2,589.8 99.2,586.4 Z" fill="#0c0c0c" stroke="none" stroke-width="1.0" filter="url(#bl3)"/><path d="M101.8,580.9 L107.2,580.9 L106.9,584.0 Q104.5,586.0 102.1,584.0 Z" fill="#d0d0d0" stroke="none" stroke-width="1.0" filter="url(#bl5)"/><path d="M110.4,581.4 L121.0,581.4 L121.0,586.4 Q121.0,589.8 117.6,589.8 L113.8,589.8 Q110.4,589.8 110.4,586.4 Z" fill="#131313" stroke="none" stroke-width="1.0" filter="url(#bl3)"/><path d="M113.0,580.9 L118.4,580.9 L118.1,584.0 Q115.7,586.0 113.3,584.0 Z" fill="#d8d8d8" stroke="none" stroke-width="1.0" filter="url(#bl5)"/><path d="M122.4,581.4 L133.0,581.4 L133.0,586.4 Q133.0,589.8 129.6,589.8 L125.8,589.8 Q122.4,589.8 122.4,586.4 Z" fill="#151515" stroke="none" stroke-width="1.0" filter="url(#bl3)"/><path d="M125.0,580.9 L130.4,580.9 L130.1,584.0 Q127.7,586.0 125.3,584.0 Z" fill="#d8d8d8" stroke="none" stroke-width="1.0" filter="url(#bl5)"/><rect x="38.50" y="579.00" width="97.30" height="13.40" fill="none" stroke="#1a1a1a" stroke-width="1.1"/><line x1="33.60" y1="585.50" x2="38.30" y2="585.50" stroke="#222" stroke-width="0.9"/><text x="32.60" y="587.90" font-size="6.6" fill="#333333" text-anchor="end" stroke="#333333" stroke-width="0.15">42 kDa</text><text x="140.00" y="587.90" font-size="6.6" fill="#333333" text-anchor="start" stroke="#333333" stroke-width="0.15">EIF2α</text><rect x="38.50" y="600.00" width="97.30" height="11.60" fill="#bababa"/><path d="M40.6,600.6 L51.2,600.6 L51.2,607.2 Q51.2,610.6 47.8,610.6 L44.0,610.6 Q40.6,610.6 40.6,607.2 Z" fill="#9a9a9a" stroke="none" stroke-width="1.0" filter="url(#bl3)"/><path d="M43.2,600.1 L48.6,600.1 L48.3,603.9 Q45.9,605.9 43.5,603.9 Z" fill="#b8b8b8" stroke="none" stroke-width="1.0" filter="url(#bl5)"/><path d="M51.8,600.6 L62.4,600.6 L62.4,607.2 Q62.4,610.6 59.0,610.6 L55.2,610.6 Q51.8,610.6 51.8,607.2 Z" fill="#080808" stroke="none" stroke-width="1.0" filter="url(#bl3)"/><path d="M54.4,600.1 L59.8,600.1 L59.5,603.9 Q57.1,605.9 54.7,603.9 Z" fill="#a0a0a0" stroke="none" stroke-width="1.0" filter="url(#bl5)"/><path d="M63.2,600.6 L73.8,600.6 L73.8,607.2 Q73.8,610.6 70.4,610.6 L66.6,610.6 Q63.2,610.6 63.2,607.2 Z" fill="#141414" stroke="none" stroke-width="1.0" filter="url(#bl3)"/><path d="M65.8,600.1 L71.2,600.1 L70.9,603.9 Q68.5,605.9 66.1,603.9 Z" fill="#a8a8a8" stroke="none" stroke-width="1.0" filter="url(#bl5)"/><path d="M74.8,600.6 L85.4,600.6 L85.4,607.2 Q85.4,610.6 82.0,610.6 L78.2,610.6 Q74.8,610.6 74.8,607.2 Z" fill="#1e1e1e" stroke="none" stroke-width="1.0" filter="url(#bl3)"/><path d="M77.4,600.1 L82.8,600.1 L82.5,603.9 Q80.1,605.9 77.7,603.9 Z" fill="#a8a8a8" stroke="none" stroke-width="1.0" filter="url(#bl5)"/><path d="M87.7,600.6 L98.3,600.6 L98.3,607.2 Q98.3,610.6 94.9,610.6 L91.1,610.6 Q87.7,610.6 87.7,607.2 Z" fill="#a4a4a4" stroke="none" stroke-width="1.0" filter="url(#bl3)"/><path d="M90.3,600.1 L95.7,600.1 L95.4,603.9 Q93.0,605.9 90.6,603.9 Z" fill="#bcbcbc" stroke="none" stroke-width="1.0" filter="url(#bl5)"/><path d="M99.2,600.6 L109.8,600.6 L109.8,607.2 Q109.8,610.6 106.4,610.6 L102.6,610.6 Q99.2,610.6 99.2,607.2 Z" fill="#060606" stroke="none" stroke-width="1.0" filter="url(#bl3)"/><path d="M101.8,600.1 L107.2,600.1 L106.9,603.9 Q104.5,605.9 102.1,603.9 Z" fill="#8a8a8a" stroke="none" stroke-width="1.0" filter="url(#bl5)"/><path d="M110.4,600.6 L121.0,600.6 L121.0,607.2 Q121.0,610.6 117.6,610.6 L113.8,610.6 Q110.4,610.6 110.4,607.2 Z" fill="#141414" stroke="none" stroke-width="1.0" filter="url(#bl3)"/><path d="M113.0,600.1 L118.4,600.1 L118.1,603.9 Q115.7,605.9 113.3,603.9 Z" fill="#a8a8a8" stroke="none" stroke-width="1.0" filter="url(#bl5)"/><path d="M122.4,600.6 L133.0,600.6 L133.0,607.2 Q133.0,610.6 129.6,610.6 L125.8,610.6 Q122.4,610.6 122.4,607.2 Z" fill="#181818" stroke="none" stroke-width="1.0" filter="url(#bl3)"/><path d="M125.0,600.1 L130.4,600.1 L130.1,603.9 Q127.7,605.9 125.3,603.9 Z" fill="#a8a8a8" stroke="none" stroke-width="1.0" filter="url(#bl5)"/><rect x="38.50" y="600.00" width="97.30" height="11.60" fill="none" stroke="#1a1a1a" stroke-width="1.1"/><line x1="33.60" y1="605.50" x2="38.30" y2="605.50" stroke="#222" stroke-width="0.9"/><text x="32.60" y="607.90" font-size="6.6" fill="#333333" text-anchor="end" stroke="#333333" stroke-width="0.15">32 kDa</text><text x="140.00" y="607.90" font-size="6.6" fill="#333333" text-anchor="start" stroke="#333333" stroke-width="0.15">pS6</text><rect x="38.50" y="615.50" width="97.30" height="14.40" fill="#fafafa"/><path d="M40.6,619.8 L51.2,619.8 L51.2,623.4 Q51.2,626.8 47.8,626.8 L44.0,626.8 Q40.6,626.8 40.6,623.4 Z" fill="#101010" stroke="none" stroke-width="1.0" filter="url(#bl3)"/><path d="M42.0,619.3 L49.8,619.3 L49.5,622.9 Q45.9,624.9 42.3,622.9 Z" fill="#f4f4f4" stroke="none" stroke-width="1.0" filter="url(#bl5)"/><path d="M51.8,619.8 L62.4,619.8 L62.4,623.4 Q62.4,626.8 59.0,626.8 L55.2,626.8 Q51.8,626.8 51.8,623.4 Z" fill="#0a0a0a" stroke="none" stroke-width="1.0" filter="url(#bl3)"/><path d="M53.2,619.3 L61.0,619.3 L60.7,622.9 Q57.1,624.9 53.5,622.9 Z" fill="#eeeeee" stroke="none" stroke-width="1.0" filter="url(#bl5)"/><path d="M63.2,619.8 L73.8,619.8 L73.8,623.4 Q73.8,626.8 70.4,626.8 L66.6,626.8 Q63.2,626.8 63.2,623.4 Z" fill="#161616" stroke="none" stroke-width="1.0" filter="url(#bl3)"/><path d="M64.6,619.3 L72.4,619.3 L72.1,622.9 Q68.5,624.9 64.9,622.9 Z" fill="#f4f4f4" stroke="none" stroke-width="1.0" filter="url(#bl5)"/><path d="M74.8,619.8 L85.4,619.8 L85.4,623.4 Q85.4,626.8 82.0,626.8 L78.2,626.8 Q74.8,626.8 74.8,623.4 Z" fill="#b0b0b0" stroke="none" stroke-width="1.0" filter="url(#bl3)"/><path d="M76.2,619.3 L84.0,619.3 L83.7,622.9 Q80.1,624.9 76.5,622.9 Z" fill="#f4f4f4" stroke="none" stroke-width="1.0" filter="url(#bl5)"/><path d="M87.7,619.8 L98.3,619.8 L98.3,623.4 Q98.3,626.8 94.9,626.8 L91.1,626.8 Q87.7,626.8 87.7,623.4 Z" fill="#101010" stroke="none" stroke-width="1.0" filter="url(#bl3)"/><path d="M89.1,619.3 L96.9,619.3 L96.6,622.9 Q93.0,624.9 89.4,622.9 Z" fill="#eeeeee" stroke="none" stroke-width="1.0" filter="url(#bl5)"/><path d="M99.2,619.8 L109.8,619.8 L109.8,623.4 Q109.8,626.8 106.4,626.8 L102.6,626.8 Q99.2,626.8 99.2,623.4 Z" fill="#080808" stroke="none" stroke-width="1.0" filter="url(#bl3)"/><path d="M100.6,619.3 L108.4,619.3 L108.1,622.9 Q104.5,624.9 100.9,622.9 Z" fill="#dddddd" stroke="none" stroke-width="1.0" filter="url(#bl5)"/><path d="M110.4,619.8 L121.0,619.8 L121.0,623.4 Q121.0,626.8 117.6,626.8 L113.8,626.8 Q110.4,626.8 110.4,623.4 Z" fill="#1a1a1a" stroke="none" stroke-width="1.0" filter="url(#bl3)"/><path d="M111.8,619.3 L119.6,619.3 L119.3,622.9 Q115.7,624.9 112.1,622.9 Z" fill="#dddddd" stroke="none" stroke-width="1.0" filter="url(#bl5)"/><path d="M122.4,619.8 L133.0,619.8 L133.0,623.4 Q133.0,626.8 129.6,626.8 L125.8,626.8 Q122.4,626.8 122.4,623.4 Z" fill="#383838" stroke="none" stroke-width="1.0" filter="url(#bl3)"/><path d="M123.8,619.3 L131.6,619.3 L131.3,622.9 Q127.7,624.9 124.1,622.9 Z" fill="#dddddd" stroke="none" stroke-width="1.0" filter="url(#bl5)"/><rect x="38.50" y="615.50" width="97.30" height="14.40" fill="none" stroke="#1a1a1a" stroke-width="1.1"/><line x1="33.60" y1="623.50" x2="38.30" y2="623.50" stroke="#222" stroke-width="0.9"/><text x="32.60" y="625.60" font-size="6.6" fill="#333333" text-anchor="end" stroke="#333333" stroke-width="0.15">32 kDa</text><text x="140.00" y="625.60" font-size="6.6" fill="#333333" text-anchor="start" stroke="#333333" stroke-width="0.15">S6</text><rect x="38.50" y="636.00" width="97.30" height="14.80" fill="#c6c6c6"/><path d="M40.6,639.0 L51.2,639.0 L51.2,643.8 Q51.2,647.2 47.8,647.2 L44.0,647.2 Q40.6,647.2 40.6,643.8 Z" fill="#1a1a1a" stroke="none" stroke-width="1.0" filter="url(#bl3)"/><path d="M43.2,638.5 L48.6,638.5 L48.3,641.5 Q45.9,643.5 43.5,641.5 Z" fill="#bcbcbc" stroke="none" stroke-width="1.0" filter="url(#bl5)"/><path d="M51.8,639.0 L62.4,639.0 L62.4,643.8 Q62.4,647.2 59.0,647.2 L55.2,647.2 Q51.8,647.2 51.8,643.8 Z" fill="#161616" stroke="none" stroke-width="1.0" filter="url(#bl3)"/><path d="M54.4,638.5 L59.8,638.5 L59.5,641.5 Q57.1,643.5 54.7,641.5 Z" fill="#bcbcbc" stroke="none" stroke-width="1.0" filter="url(#bl5)"/><path d="M63.2,639.0 L73.8,639.0 L73.8,643.8 Q73.8,647.2 70.4,647.2 L66.6,647.2 Q63.2,647.2 63.2,643.8 Z" fill="#141414" stroke="none" stroke-width="1.0" filter="url(#bl3)"/><path d="M65.8,638.5 L71.2,638.5 L70.9,641.5 Q68.5,643.5 66.1,641.5 Z" fill="#bcbcbc" stroke="none" stroke-width="1.0" filter="url(#bl5)"/><path d="M74.8,639.0 L85.4,639.0 L85.4,643.8 Q85.4,647.2 82.0,647.2 L78.2,647.2 Q74.8,647.2 74.8,643.8 Z" fill="#1e1e1e" stroke="none" stroke-width="1.0" filter="url(#bl3)"/><path d="M77.4,638.5 L82.8,638.5 L82.5,641.5 Q80.1,643.5 77.7,641.5 Z" fill="#bcbcbc" stroke="none" stroke-width="1.0" filter="url(#bl5)"/><path d="M87.7,639.0 L98.3,639.0 L98.3,643.8 Q98.3,647.2 94.9,647.2 L91.1,647.2 Q87.7,647.2 87.7,643.8 Z" fill="#262626" stroke="none" stroke-width="1.0" filter="url(#bl3)"/><path d="M90.3,638.5 L95.7,638.5 L95.4,641.5 Q93.0,643.5 90.6,641.5 Z" fill="#bcbcbc" stroke="none" stroke-width="1.0" filter="url(#bl5)"/><path d="M99.2,639.0 L109.8,639.0 L109.8,643.8 Q109.8,647.2 106.4,647.2 L102.6,647.2 Q99.2,647.2 99.2,643.8 Z" fill="#161616" stroke="none" stroke-width="1.0" filter="url(#bl3)"/><path d="M101.8,638.5 L107.2,638.5 L106.9,641.5 Q104.5,643.5 102.1,641.5 Z" fill="#bcbcbc" stroke="none" stroke-width="1.0" filter="url(#bl5)"/><path d="M110.4,639.0 L121.0,639.0 L121.0,643.8 Q121.0,647.2 117.6,647.2 L113.8,647.2 Q110.4,647.2 110.4,643.8 Z" fill="#161616" stroke="none" stroke-width="1.0" filter="url(#bl3)"/><path d="M113.0,638.5 L118.4,638.5 L118.1,641.5 Q115.7,643.5 113.3,641.5 Z" fill="#bcbcbc" stroke="none" stroke-width="1.0" filter="url(#bl5)"/><path d="M122.4,639.0 L133.0,639.0 L133.0,643.8 Q133.0,647.2 129.6,647.2 L125.8,647.2 Q122.4,647.2 122.4,643.8 Z" fill="#181818" stroke="none" stroke-width="1.0" filter="url(#bl3)"/><path d="M125.0,638.5 L130.4,638.5 L130.1,641.5 Q127.7,643.5 125.3,641.5 Z" fill="#bcbcbc" stroke="none" stroke-width="1.0" filter="url(#bl5)"/><rect x="38.50" y="636.00" width="97.30" height="14.80" fill="none" stroke="#1a1a1a" stroke-width="1.1"/><line x1="33.60" y1="643.50" x2="38.30" y2="643.50" stroke="#222" stroke-width="0.9"/><text x="32.60" y="645.40" font-size="6.6" fill="#333333" text-anchor="end" stroke="#333333" stroke-width="0.15">42 kDa</text><text x="140.00" y="645.40" font-size="6.6" fill="#333333" text-anchor="start" stroke="#333333" stroke-width="0.15">β-actin</text><text x="179.30" y="531.30" font-size="11.5" fill="#000" text-anchor="start" font-weight="bold">L</text><line x1="199.50" y1="544.00" x2="199.50" y2="621.75" stroke="#1e1e1e" stroke-width="1.1"/><line x1="197.40" y1="545.50" x2="199.80" y2="545.50" stroke="#1e1e1e" stroke-width="0.9"/><text x="193.80" y="547.73" font-size="6.5" fill="#333333" text-anchor="end" stroke="#333333" stroke-width="0.15">8</text><line x1="197.40" y1="564.50" x2="199.80" y2="564.50" stroke="#1e1e1e" stroke-width="0.9"/><text x="193.80" y="566.73" font-size="6.5" fill="#333333" text-anchor="end" stroke="#333333" stroke-width="0.15">6</text><line x1="197.40" y1="583.50" x2="199.80" y2="583.50" stroke="#1e1e1e" stroke-width="0.9"/><text x="193.80" y="585.63" font-size="6.5" fill="#333333" text-anchor="end" stroke="#333333" stroke-width="0.15">4</text><line x1="197.40" y1="602.50" x2="199.80" y2="602.50" stroke="#1e1e1e" stroke-width="0.9"/><text x="193.80" y="604.63" font-size="6.5" fill="#333333" text-anchor="end" stroke="#333333" stroke-width="0.15">2</text><line x1="197.40" y1="621.50" x2="199.80" y2="621.50" stroke="#1e1e1e" stroke-width="0.9"/><text x="193.80" y="623.53" font-size="6.5" fill="#333333" text-anchor="end" stroke="#333333" stroke-width="0.15">0</text><line x1="199.25" y1="621.50" x2="313.30" y2="621.50" stroke="#1e1e1e" stroke-width="1.1"/><line x1="212.50" y1="621.20" x2="212.50" y2="623.50" stroke="#1e1e1e" stroke-width="0.9"/><line x1="241.50" y1="621.20" x2="241.50" y2="623.50" stroke="#1e1e1e" stroke-width="0.9"/><line x1="270.50" y1="621.20" x2="270.50" y2="623.50" stroke="#1e1e1e" stroke-width="0.9"/><line x1="299.50" y1="621.20" x2="299.50" y2="623.50" stroke="#1e1e1e" stroke-width="0.9"/><text x="184.54" y="579.70" font-size="8.2" fill="#333333" text-anchor="middle" stroke="#333333" stroke-width="0.15" textLength="42" lengthAdjust="spacingAndGlyphs" transform="rotate(-90 184.54 579.70)">pEIF2α/β-actin</text><text x="212.00" y="631.70" font-size="6.6" fill="#333333" text-anchor="middle" stroke="#333333" stroke-width="0.15" textLength="28.4" lengthAdjust="spacingAndGlyphs">HSC/MPP</text><text x="241.60" y="631.70" font-size="6.6" fill="#333333" text-anchor="middle" stroke="#333333" stroke-width="0.15" textLength="13.8" lengthAdjust="spacingAndGlyphs">CMP</text><text x="271.00" y="631.70" font-size="6.6" fill="#333333" text-anchor="middle" stroke="#333333" stroke-width="0.15" textLength="14.3" lengthAdjust="spacingAndGlyphs">GMP</text><text x="300.70" y="631.70" font-size="6.6" fill="#333333" text-anchor="middle" stroke="#333333" stroke-width="0.15" textLength="13.4" lengthAdjust="spacingAndGlyphs">MEP</text><circle cx="226.20" cy="644.00" r="1.25" fill="#1d4e7e" stroke="none" stroke-width="1.0"/><text x="230.50" y="645.80" font-size="6.6" fill="#333333" text-anchor="start" stroke="#333333" stroke-width="0.15" textLength="9.2" lengthAdjust="spacingAndGlyphs">WT</text><circle cx="250.80" cy="644.00" r="1.45" fill="none" stroke="#c2183f" stroke-width="0.9"/><text x="255.70" y="645.80" font-size="6.6" fill="#333333" text-anchor="start" stroke="#333333" stroke-width="0.15" textLength="34.3" lengthAdjust="spacingAndGlyphs">CD99 Gt/Gt</text><rect x="203.70" y="611.50" width="6.70" height="9.15" fill="#9ebcd7"/><circle cx="204.80" cy="611.60" r="1.70" fill="#1d4e7e" stroke="none" stroke-width="1.0"/><circle cx="207.00" cy="611.60" r="1.70" fill="#1d4e7e" stroke="none" stroke-width="1.0"/><circle cx="209.20" cy="611.60" r="1.70" fill="#1d4e7e" stroke="none" stroke-width="1.0"/><rect x="213.80" y="608.30" width="7.20" height="12.35" fill="#f0a0b3"/><circle cx="215.20" cy="605.00" r="1.80" fill="none" stroke="#c2183f" stroke-width="1.1"/><circle cx="217.70" cy="608.30" r="1.80" fill="none" stroke="#c2183f" stroke-width="1.1"/><circle cx="220.40" cy="608.70" r="1.80" fill="none" stroke="#c2183f" stroke-width="1.1"/><circle cx="215.20" cy="610.60" r="1.80" fill="none" stroke="#c2183f" stroke-width="1.1"/><line x1="206.50" y1="599.50" x2="217.50" y2="599.50" stroke="#1e1e1e" stroke-width="0.9"/><text x="211.90" y="599.50" font-size="6.5" fill="#333333" text-anchor="middle" stroke="#333333" stroke-width="0.15">*</text><rect x="232.50" y="603.80" width="6.70" height="16.85" fill="#9ebcd7"/><line x1="235.50" y1="601.20" x2="235.50" y2="603.80" stroke="#2d5a86" stroke-width="0.9"/><line x1="233.60" y1="601.50" x2="238.00" y2="601.50" stroke="#2d5a86" stroke-width="0.9"/><circle cx="236.00" cy="599.20" r="1.70" fill="#1d4e7e" stroke="none" stroke-width="1.0"/><circle cx="234.00" cy="605.00" r="1.70" fill="#1d4e7e" stroke="none" stroke-width="1.0"/><circle cx="237.30" cy="605.40" r="1.70" fill="#1d4e7e" stroke="none" stroke-width="1.0"/><circle cx="236.00" cy="607.30" r="1.70" fill="#1d4e7e" stroke="none" stroke-width="1.0"/><rect x="243.50" y="596.20" width="6.90" height="24.45" fill="#f0a0b3"/><line x1="246.50" y1="587.10" x2="246.50" y2="596.20" stroke="#c2183f" stroke-width="0.9"/><line x1="244.70" y1="587.50" x2="249.10" y2="587.50" stroke="#c2183f" stroke-width="0.9"/><circle cx="246.90" cy="572.70" r="1.80" fill="none" stroke="#c2183f" stroke-width="1.1"/><circle cx="246.90" cy="596.70" r="1.80" fill="none" stroke="#c2183f" stroke-width="1.1"/><circle cx="246.90" cy="600.60" r="1.80" fill="none" stroke="#c2183f" stroke-width="1.1"/><circle cx="246.90" cy="607.00" r="1.80" fill="none" stroke="#c2183f" stroke-width="1.1"/><text x="232.00" y="561.40" font-size="6.4" fill="#333333" text-anchor="start" stroke="#333333" stroke-width="0.15" font-style="italic" textLength="3.3" lengthAdjust="spacingAndGlyphs">P</text><text x="237.30" y="561.40" font-size="6.4" fill="#333333" text-anchor="start" stroke="#333333" stroke-width="0.15" textLength="3.4" lengthAdjust="spacingAndGlyphs">=</text><text x="242.80" y="561.40" font-size="6.4" fill="#333333" text-anchor="start" stroke="#333333" stroke-width="0.15" textLength="8.6" lengthAdjust="spacingAndGlyphs">.31</text><line x1="236.30" y1="565.00" x2="247.90" y2="565.00" stroke="#444" stroke-width="1.4"/><rect x="262.70" y="602.70" width="6.30" height="17.95" fill="#9ebcd7"/><line x1="265.50" y1="598.50" x2="265.50" y2="602.70" stroke="#2d5a86" stroke-width="0.9"/><line x1="263.60" y1="598.50" x2="268.00" y2="598.50" stroke="#2d5a86" stroke-width="0.9"/><circle cx="265.60" cy="593.10" r="1.70" fill="#1d4e7e" stroke="none" stroke-width="1.0"/><circle cx="263.80" cy="603.30" r="1.70" fill="#1d4e7e" stroke="none" stroke-width="1.0"/><circle cx="267.10" cy="603.70" r="1.70" fill="#1d4e7e" stroke="none" stroke-width="1.0"/><circle cx="265.60" cy="602.30" r="1.70" fill="#1d4e7e" stroke="none" stroke-width="1.0"/><rect x="273.50" y="598.50" width="6.50" height="22.15" fill="#f0a0b3"/><line x1="276.50" y1="596.20" x2="276.50" y2="598.50" stroke="#c2183f" stroke-width="0.9"/><line x1="274.50" y1="596.50" x2="278.90" y2="596.50" stroke="#c2183f" stroke-width="0.9"/><circle cx="276.70" cy="591.70" r="1.80" fill="none" stroke="#c2183f" stroke-width="1.1"/><circle cx="274.80" cy="598.50" r="1.80" fill="none" stroke="#c2183f" stroke-width="1.1"/><circle cx="278.70" cy="601.30" r="1.80" fill="none" stroke="#c2183f" stroke-width="1.1"/><circle cx="274.80" cy="603.80" r="1.80" fill="none" stroke="#c2183f" stroke-width="1.1"/><rect x="292.10" y="585.40" width="6.40" height="35.25" fill="#9ebcd7"/><line x1="295.50" y1="574.40" x2="295.50" y2="585.40" stroke="#2d5a86" stroke-width="0.9"/><line x1="293.10" y1="574.50" x2="297.50" y2="574.50" stroke="#2d5a86" stroke-width="0.9"/><circle cx="294.60" cy="554.20" r="1.70" fill="#1d4e7e" stroke="none" stroke-width="1.0"/><circle cx="292.70" cy="590.40" r="1.70" fill="#1d4e7e" stroke="none" stroke-width="1.0"/><circle cx="296.90" cy="592.30" r="1.70" fill="#1d4e7e" stroke="none" stroke-width="1.0"/><circle cx="295.00" cy="601.30" r="1.70" fill="#1d4e7e" stroke="none" stroke-width="1.0"/><rect x="303.10" y="587.90" width="6.30" height="32.75" fill="#f0a0b3"/><line x1="306.50" y1="581.70" x2="306.50" y2="587.90" stroke="#c2183f" stroke-width="0.9"/><line x1="304.00" y1="581.50" x2="308.40" y2="581.50" stroke="#c2183f" stroke-width="0.9"/><circle cx="306.20" cy="571.90" r="1.80" fill="none" stroke="#c2183f" stroke-width="1.1"/><circle cx="306.20" cy="586.90" r="1.80" fill="none" stroke="#c2183f" stroke-width="1.1"/><circle cx="306.20" cy="593.10" r="1.80" fill="none" stroke="#c2183f" stroke-width="1.1"/><circle cx="306.20" cy="597.50" r="1.80" fill="none" stroke="#c2183f" stroke-width="1.1"/><text x="328.90" y="531.60" font-size="11.5" fill="#000" text-anchor="start" font-weight="bold" textLength="9.9" lengthAdjust="spacingAndGlyphs">M</text><line x1="350.50" y1="544.00" x2="350.50" y2="621.75" stroke="#1e1e1e" stroke-width="1.1"/><line x1="348.40" y1="545.50" x2="350.80" y2="545.50" stroke="#1e1e1e" stroke-width="0.9"/><text x="344.80" y="547.73" font-size="6.5" fill="#333333" text-anchor="end" stroke="#333333" stroke-width="0.15">6</text><line x1="348.40" y1="570.50" x2="350.80" y2="570.50" stroke="#1e1e1e" stroke-width="0.9"/><text x="344.80" y="573.13" font-size="6.5" fill="#333333" text-anchor="end" stroke="#333333" stroke-width="0.15">4</text><line x1="348.40" y1="596.50" x2="350.80" y2="596.50" stroke="#1e1e1e" stroke-width="0.9"/><text x="344.80" y="598.33" font-size="6.5" fill="#333333" text-anchor="end" stroke="#333333" stroke-width="0.15">2</text><line x1="348.40" y1="621.50" x2="350.80" y2="621.50" stroke="#1e1e1e" stroke-width="0.9"/><text x="344.80" y="623.53" font-size="6.5" fill="#333333" text-anchor="end" stroke="#333333" stroke-width="0.15">0</text><line x1="350.25" y1="621.50" x2="464.40" y2="621.50" stroke="#1e1e1e" stroke-width="1.1"/><line x1="363.50" y1="621.20" x2="363.50" y2="623.50" stroke="#1e1e1e" stroke-width="0.9"/><line x1="392.50" y1="621.20" x2="392.50" y2="623.50" stroke="#1e1e1e" stroke-width="0.9"/><line x1="422.50" y1="621.20" x2="422.50" y2="623.50" stroke="#1e1e1e" stroke-width="0.9"/><line x1="451.50" y1="621.20" x2="451.50" y2="623.50" stroke="#1e1e1e" stroke-width="0.9"/><text x="335.84" y="579.10" font-size="8.2" fill="#333333" text-anchor="middle" stroke="#333333" stroke-width="0.15" textLength="31.1" lengthAdjust="spacingAndGlyphs" transform="rotate(-90 335.84 579.10)">S6/β-actin</text><text x="363.80" y="631.70" font-size="6.6" fill="#333333" text-anchor="middle" stroke="#333333" stroke-width="0.15" textLength="28.4" lengthAdjust="spacingAndGlyphs">HSC/MPP</text><text x="393.70" y="631.70" font-size="6.6" fill="#333333" text-anchor="middle" stroke="#333333" stroke-width="0.15" textLength="13.8" lengthAdjust="spacingAndGlyphs">CMP</text><text x="422.70" y="631.70" font-size="6.6" fill="#333333" text-anchor="middle" stroke="#333333" stroke-width="0.15" textLength="14.3" lengthAdjust="spacingAndGlyphs">GMP</text><text x="452.00" y="631.70" font-size="6.6" fill="#333333" text-anchor="middle" stroke="#333333" stroke-width="0.15" textLength="13.4" lengthAdjust="spacingAndGlyphs">MEP</text><circle cx="377.50" cy="644.30" r="1.25" fill="#1d4e7e" stroke="none" stroke-width="1.0"/><text x="382.00" y="646.20" font-size="6.6" fill="#333333" text-anchor="start" stroke="#333333" stroke-width="0.15" textLength="9.2" lengthAdjust="spacingAndGlyphs">WT</text><circle cx="403.00" cy="644.30" r="1.45" fill="none" stroke="#c2183f" stroke-width="0.9"/><text x="408.00" y="646.20" font-size="6.6" fill="#333333" text-anchor="start" stroke="#333333" stroke-width="0.15" textLength="34.3" lengthAdjust="spacingAndGlyphs">CD99 Gt/Gt</text><rect x="355.60" y="608.80" width="6.30" height="11.85" fill="#9ebcd7"/><circle cx="356.70" cy="608.90" r="1.70" fill="#1d4e7e" stroke="none" stroke-width="1.0"/><circle cx="358.70" cy="608.90" r="1.70" fill="#1d4e7e" stroke="none" stroke-width="1.0"/><circle cx="360.70" cy="608.90" r="1.70" fill="#1d4e7e" stroke="none" stroke-width="1.0"/><rect x="366.70" y="601.20" width="6.20" height="19.45" fill="#f0a0b3"/><line x1="369.50" y1="593.50" x2="369.50" y2="601.20" stroke="#c2183f" stroke-width="0.9"/><line x1="367.60" y1="593.50" x2="372.00" y2="593.50" stroke="#c2183f" stroke-width="0.9"/><circle cx="367.70" cy="589.00" r="1.80" fill="none" stroke="#c2183f" stroke-width="1.1"/><circle cx="371.90" cy="589.00" r="1.80" fill="none" stroke="#c2183f" stroke-width="1.1"/><circle cx="367.70" cy="597.30" r="1.80" fill="none" stroke="#c2183f" stroke-width="1.1"/><circle cx="371.90" cy="599.60" r="1.80" fill="none" stroke="#c2183f" stroke-width="1.1"/><circle cx="369.60" cy="611.20" r="1.80" fill="none" stroke="#c2183f" stroke-width="1.1"/><line x1="357.50" y1="581.50" x2="369.00" y2="581.50" stroke="#1e1e1e" stroke-width="0.9"/><text x="363.30" y="582.40" font-size="6.5" fill="#333333" text-anchor="middle" stroke="#333333" stroke-width="0.15">*</text><rect x="385.40" y="603.10" width="6.10" height="17.55" fill="#9ebcd7"/><line x1="388.50" y1="600.60" x2="388.50" y2="603.10" stroke="#2d5a86" stroke-width="0.9"/><line x1="386.20" y1="600.50" x2="390.60" y2="600.50" stroke="#2d5a86" stroke-width="0.9"/><circle cx="387.70" cy="595.40" r="1.70" fill="#1d4e7e" stroke="none" stroke-width="1.0"/><circle cx="386.30" cy="602.50" r="1.70" fill="#1d4e7e" stroke="none" stroke-width="1.0"/><circle cx="390.20" cy="603.80" r="1.70" fill="#1d4e7e" stroke="none" stroke-width="1.0"/><circle cx="386.30" cy="605.80" r="1.70" fill="#1d4e7e" stroke="none" stroke-width="1.0"/><circle cx="387.70" cy="608.80" r="1.70" fill="#1d4e7e" stroke="none" stroke-width="1.0"/><circle cx="390.20" cy="606.50" r="1.70" fill="#1d4e7e" stroke="none" stroke-width="1.0"/><rect x="396.30" y="587.70" width="6.40" height="32.95" fill="#f0a0b3"/><line x1="399.50" y1="576.50" x2="399.50" y2="587.70" stroke="#c2183f" stroke-width="0.9"/><line x1="397.30" y1="576.50" x2="401.70" y2="576.50" stroke="#c2183f" stroke-width="0.9"/><circle cx="399.20" cy="550.00" r="1.80" fill="none" stroke="#c2183f" stroke-width="1.1"/><circle cx="399.20" cy="585.20" r="1.80" fill="none" stroke="#c2183f" stroke-width="1.1"/><circle cx="396.90" cy="592.90" r="1.80" fill="none" stroke="#c2183f" stroke-width="1.1"/><circle cx="401.20" cy="595.40" r="1.80" fill="none" stroke="#c2183f" stroke-width="1.1"/><circle cx="399.20" cy="607.30" r="1.80" fill="none" stroke="#c2183f" stroke-width="1.1"/><text x="383.80" y="542.80" font-size="6.4" fill="#333333" text-anchor="start" stroke="#333333" stroke-width="0.15" font-style="italic" textLength="3.3" lengthAdjust="spacingAndGlyphs">P</text><text x="389.10" y="542.80" font-size="6.4" fill="#333333" text-anchor="start" stroke="#333333" stroke-width="0.15" textLength="3.4" lengthAdjust="spacingAndGlyphs">=</text><text x="394.60" y="542.80" font-size="6.4" fill="#333333" text-anchor="start" stroke="#333333" stroke-width="0.15" textLength="8.6" lengthAdjust="spacingAndGlyphs">.17</text><line x1="387.20" y1="546.00" x2="398.90" y2="546.00" stroke="#444" stroke-width="1.3"/><rect x="414.40" y="597.50" width="5.80" height="23.15" fill="#9ebcd7"/><line x1="417.50" y1="590.80" x2="417.50" y2="597.50" stroke="#2d5a86" stroke-width="0.9"/><line x1="415.10" y1="590.50" x2="419.50" y2="590.50" stroke="#2d5a86" stroke-width="0.9"/><circle cx="417.30" cy="577.70" r="1.70" fill="#1d4e7e" stroke="none" stroke-width="1.0"/><circle cx="417.30" cy="586.50" r="1.70" fill="#1d4e7e" stroke="none" stroke-width="1.0"/><circle cx="417.30" cy="601.30" r="1.70" fill="#1d4e7e" stroke="none" stroke-width="1.0"/><circle cx="417.30" cy="607.10" r="1.70" fill="#1d4e7e" stroke="none" stroke-width="1.0"/><circle cx="417.30" cy="611.90" r="1.70" fill="#1d4e7e" stroke="none" stroke-width="1.0"/><rect x="425.00" y="590.40" width="6.30" height="30.25" fill="#f0a0b3"/><line x1="428.50" y1="584.60" x2="428.50" y2="590.40" stroke="#c2183f" stroke-width="0.9"/><line x1="426.00" y1="584.50" x2="430.40" y2="584.50" stroke="#c2183f" stroke-width="0.9"/><circle cx="426.00" cy="576.00" r="1.80" fill="none" stroke="#c2183f" stroke-width="1.1"/><circle cx="430.40" cy="578.30" r="1.80" fill="none" stroke="#c2183f" stroke-width="1.1"/><circle cx="426.30" cy="592.70" r="1.80" fill="none" stroke="#c2183f" stroke-width="1.1"/><circle cx="430.20" cy="596.20" r="1.80" fill="none" stroke="#c2183f" stroke-width="1.1"/><circle cx="428.50" cy="601.90" r="1.80" fill="none" stroke="#c2183f" stroke-width="1.1"/><rect x="444.20" y="584.00" width="6.20" height="36.65" fill="#9ebcd7"/><line x1="447.50" y1="573.50" x2="447.50" y2="584.00" stroke="#2d5a86" stroke-width="0.9"/><line x1="445.10" y1="573.50" x2="449.50" y2="573.50" stroke="#2d5a86" stroke-width="0.9"/><circle cx="444.60" cy="560.00" r="1.70" fill="#1d4e7e" stroke="none" stroke-width="1.0"/><circle cx="449.00" cy="561.00" r="1.70" fill="#1d4e7e" stroke="none" stroke-width="1.0"/><circle cx="446.50" cy="587.30" r="1.70" fill="#1d4e7e" stroke="none" stroke-width="1.0"/><circle cx="446.50" cy="593.70" r="1.70" fill="#1d4e7e" stroke="none" stroke-width="1.0"/><circle cx="446.50" cy="615.40" r="1.70" fill="#1d4e7e" stroke="none" stroke-width="1.0"/><rect x="455.20" y="582.70" width="6.00" height="37.95" fill="#f0a0b3"/><line x1="458.50" y1="573.50" x2="458.50" y2="582.70" stroke="#c2183f" stroke-width="0.9"/><line x1="456.00" y1="573.50" x2="460.40" y2="573.50" stroke="#c2183f" stroke-width="0.9"/><circle cx="457.70" cy="558.10" r="1.80" fill="none" stroke="#c2183f" stroke-width="1.1"/><circle cx="457.70" cy="574.00" r="1.80" fill="none" stroke="#c2183f" stroke-width="1.1"/><circle cx="457.70" cy="580.20" r="1.80" fill="none" stroke="#c2183f" stroke-width="1.1"/><circle cx="457.70" cy="593.70" r="1.80" fill="none" stroke="#c2183f" stroke-width="1.1"/><circle cx="457.70" cy="603.80" r="1.80" fill="none" stroke="#c2183f" stroke-width="1.1"/><rect x="0.50" y="0.50" width="519.00" height="656.00" fill="none" stroke="#626262" stroke-width="1.05"/></svg></body></html>
